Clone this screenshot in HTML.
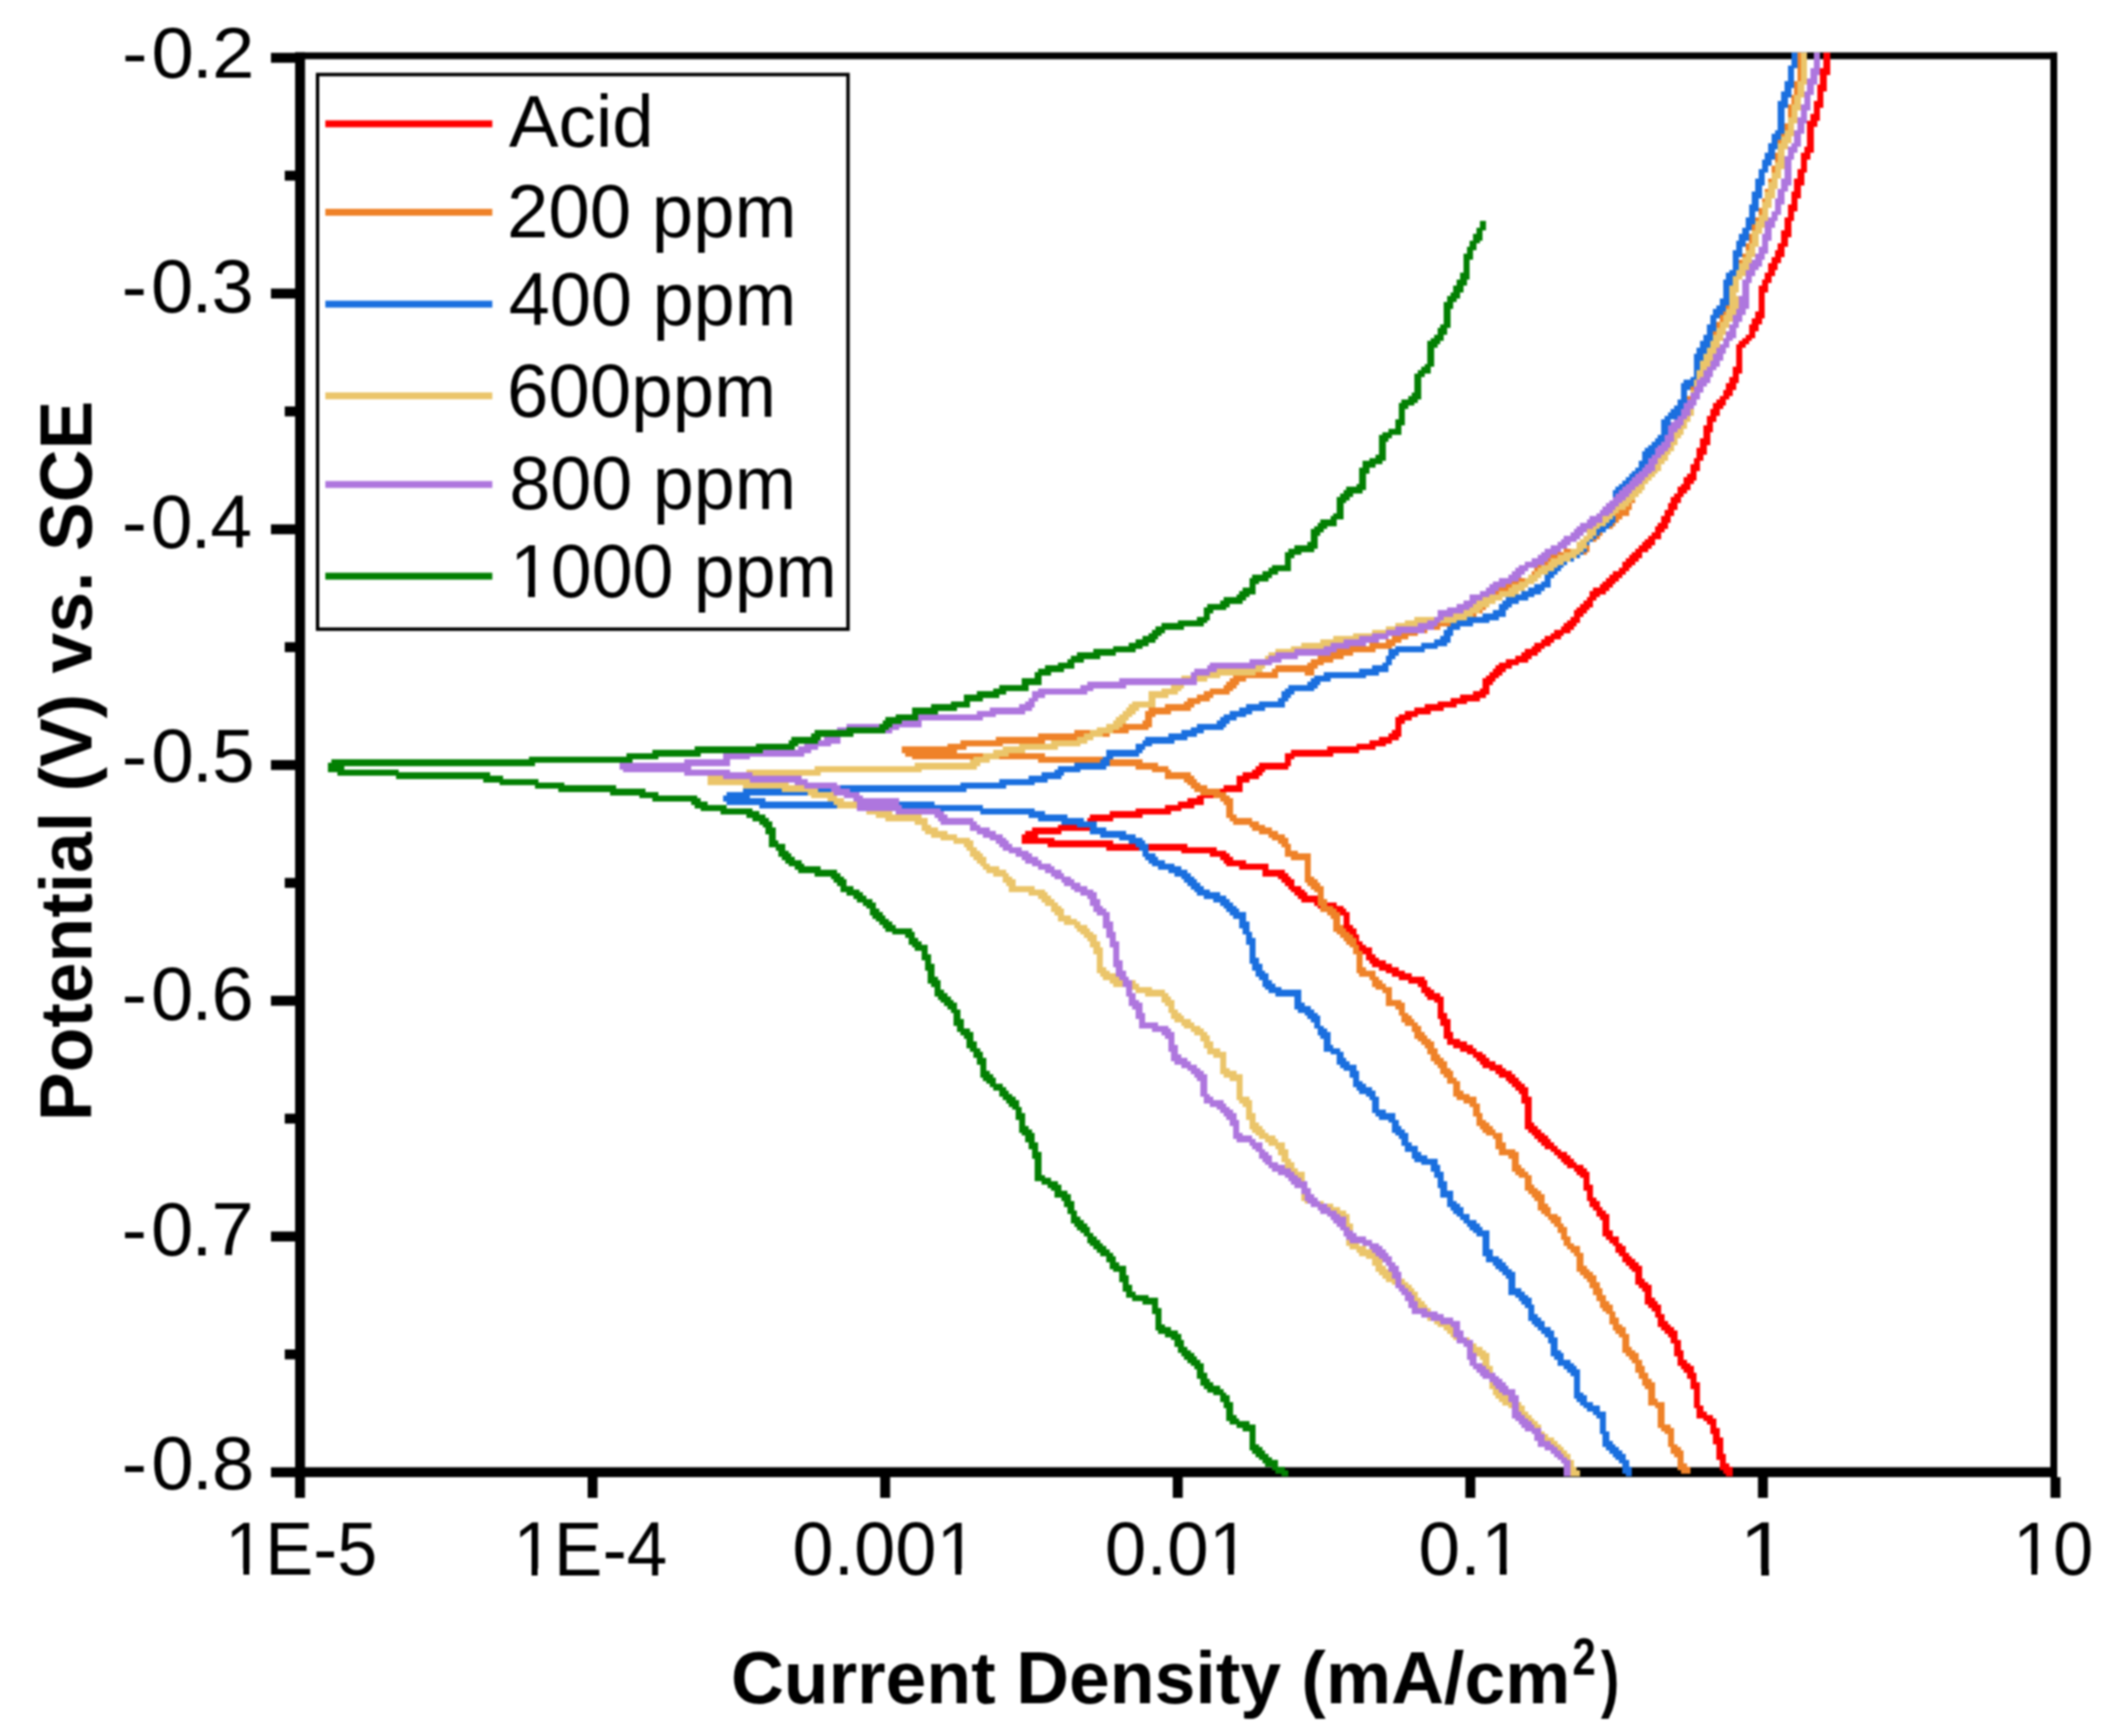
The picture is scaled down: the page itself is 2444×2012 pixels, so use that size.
<!DOCTYPE html>
<html><head><meta charset="utf-8"><title>Tafel plot</title>
<style>html,body{margin:0;padding:0;background:#fff;overflow:hidden;}svg{display:block;filter:blur(1.1px);}</style>
</head><body>
<svg width="2444" height="2012" viewBox="0 0 2444 2012">
<rect width="2444" height="2012" fill="#fff"/>
<g fill="#000">
<rect x="342" y="60.7" width="11.5" height="1651.3"/>
<rect x="342" y="1700.5" width="2042" height="11.5"/>
<rect x="342" y="60.7" width="2042" height="7.8999999999999915"/>
<rect x="2376" y="60.7" width="8" height="1651.3"/>
<rect x="314" y="61.25" width="28" height="11.5"/>
<rect x="314" y="334.47" width="28" height="11.5"/>
<rect x="314" y="607.69" width="28" height="11.5"/>
<rect x="314" y="880.91" width="28" height="11.5"/>
<rect x="314" y="1154.13" width="28" height="11.5"/>
<rect x="314" y="1427.35" width="28" height="11.5"/>
<rect x="314" y="1700.57" width="28" height="11.5"/>
<rect x="330" y="197.86" width="12" height="11.5"/>
<rect x="330" y="471.08" width="12" height="11.5"/>
<rect x="330" y="744.30" width="12" height="11.5"/>
<rect x="330" y="1017.52" width="12" height="11.5"/>
<rect x="330" y="1290.74" width="12" height="11.5"/>
<rect x="330" y="1563.96" width="12" height="11.5"/>
<rect x="341.95" y="1712" width="11.5" height="24"/>
<rect x="681.00" y="1712" width="11.5" height="24"/>
<rect x="1020.05" y="1712" width="11.5" height="24"/>
<rect x="1359.10" y="1712" width="11.5" height="24"/>
<rect x="1698.15" y="1712" width="11.5" height="24"/>
<rect x="2037.20" y="1712" width="11.5" height="24"/>
<rect x="2376.25" y="1712" width="11.5" height="24"/>
</g>
<g>
<path d="M2113 61h8v3h-8zM2113 64h8v4h-8zM2113 68h8v4h-8zM2113 72h8v4h-8zM2113 76h8v3h-8zM2109 79h12v4h-12zM2109 83h12v4h-12zM2109 87h8v4h-8zM2109 91h8v3h-8zM2109 94h8v4h-8zM2106 98h11v4h-11zM2106 102h11v4h-11zM2106 106h7v4h-7zM2106 110h7v3h-7zM2106 113h7v4h-7zM2102 117h11v4h-11zM2102 121h11v4h-11zM2102 125h7v3h-7zM2102 128h7v4h-7zM2098 132h11v4h-11zM2098 136h11v4h-11zM2094 140h12v3h-12zM2094 143h12v4h-12zM2094 147h8v4h-8zM2094 151h8v4h-8zM2094 155h8v3h-8zM2094 158h8v4h-8zM2094 162h8v4h-8zM2094 166h8v4h-8zM2091 170h11v3h-11zM2091 173h11v4h-11zM2087 177h11v4h-11zM2087 181h11v4h-11zM2087 185h7v3h-7zM2087 188h7v4h-7zM2087 192h7v4h-7zM2083 196h11v4h-11zM2083 200h8v4h-8zM2083 204h8v3h-8zM2079 207h12v4h-12zM2079 211h12v4h-12zM2079 215h8v4h-8zM2079 219h8v3h-8zM2076 222h11v4h-11zM2076 226h11v4h-11zM2076 230h7v4h-7zM2076 234h7v3h-7zM2072 237h11v4h-11zM2072 241h11v4h-11zM2072 245h7v4h-7zM2072 249h7v3h-7zM2068 252h11v4h-11zM2068 256h8v4h-8zM2068 260h8v4h-8zM2068 264h8v3h-8zM2064 267h12v4h-12zM2064 271h12v4h-12zM2064 275h8v4h-8zM2064 279h8v3h-8zM2060 282h12v4h-12zM2060 286h8v4h-8zM2057 290h11v4h-11zM2057 294h11v4h-11zM2053 298h11v3h-11zM2053 301h11v4h-11zM2049 305h11v4h-11zM2049 309h11v4h-11zM2049 313h8v3h-8zM2045 316h12v4h-12zM2045 320h8v4h-8zM2042 324h11v4h-11zM2042 328h7v3h-7zM2038 331h11v4h-11zM2038 335h11v4h-11zM2038 339h7v4h-7zM2038 343h7v3h-7zM2038 346h7v4h-7zM2038 350h7v4h-7zM2038 354h7v4h-7zM2038 358h7v3h-7zM2034 361h11v4h-11zM2034 365h11v4h-11zM2030 369h12v4h-12zM2030 373h12v3h-12zM2027 376h11v4h-11zM2027 380h11v4h-11zM2027 384h7v4h-7zM2023 388h11v4h-11zM2019 392h11v3h-11zM2015 395h12v4h-12zM2012 399h11v4h-11zM2012 403h7v4h-7zM2012 407h7v3h-7zM2012 410h7v4h-7zM2012 414h7v4h-7zM2012 418h7v4h-7zM2012 422h7v3h-7zM2008 425h11v4h-11zM2008 429h11v4h-11zM2008 433h7v4h-7zM2004 437h11v3h-11zM2004 440h11v4h-11zM2000 444h12v4h-12zM2000 448h12v4h-12zM1997 452h11v3h-11zM1997 455h11v4h-11zM1993 459h11v4h-11zM1989 463h11v4h-11zM1985 467h15v3h-15zM1985 470h12v4h-12zM1982 474h11v4h-11zM1982 478h11v4h-11zM1978 482h11v4h-11zM1978 486h11v3h-11zM1978 489h7v4h-7zM1974 493h11v4h-11zM1974 497h11v4h-11zM1974 501h8v3h-8zM1974 504h8v4h-8zM1970 508h12v4h-12zM1970 512h12v4h-12zM1970 516h8v3h-8zM1966 519h12v4h-12zM1966 523h12v4h-12zM1966 527h8v4h-8zM1963 531h11v3h-11zM1963 534h7v4h-7zM1959 538h11v4h-11zM1959 542h11v4h-11zM1959 546h7v3h-7zM1955 549h11v4h-11zM1951 553h15v4h-15zM1951 557h12v4h-12zM1948 561h11v3h-11zM1944 564h15v4h-15zM1944 568h11v4h-11zM1940 572h11v4h-11zM1936 576h12v4h-12zM1936 580h12v3h-12zM1933 583h11v4h-11zM1933 587h11v4h-11zM1929 591h11v4h-11zM1929 595h11v3h-11zM1925 598h11v4h-11zM1925 602h11v4h-11zM1921 606h12v4h-12zM1918 610h15v3h-15zM1918 613h11v4h-11zM1914 617h11v4h-11zM1910 621h15v4h-15zM1906 625h12v3h-12zM1903 628h15v4h-15zM1899 632h15v4h-15zM1895 636h15v4h-15zM1891 640h12v3h-12zM1888 643h15v4h-15zM1884 647h15v4h-15zM1880 651h15v4h-15zM1880 655h11v3h-11zM1876 658h12v4h-12zM1869 662h15v4h-15zM1865 666h15v4h-15zM1861 670h15v4h-15zM1857 674h15v3h-15zM1854 677h15v4h-15zM1846 681h19v4h-19zM1842 685h19v4h-19zM1842 689h12v3h-12zM1839 692h11v4h-11zM1835 696h11v4h-11zM1831 700h15v4h-15zM1827 704h15v3h-15zM1824 707h15v4h-15zM1824 711h11v4h-11zM1820 715h11v4h-11zM1816 719h15v3h-15zM1812 722h15v4h-15zM1809 726h15v4h-15zM1801 730h19v4h-19zM1797 734h15v3h-15zM1790 737h19v4h-19zM1786 741h15v4h-15zM1778 745h19v4h-19zM1775 749h15v3h-15zM1767 752h19v4h-19zM1763 756h19v4h-19zM1756 760h19v4h-19zM1745 764h26v4h-26zM1737 768h23v3h-23zM1733 771h19v4h-19zM1730 775h15v4h-15zM1726 779h15v4h-15zM1722 783h15v3h-15zM1718 786h15v4h-15zM1718 790h12v4h-12zM1718 794h8v4h-8zM1715 798h11v3h-11zM1707 801h19v4h-19zM1692 805h30v4h-30zM1681 809h34v4h-34zM1666 813h34v3h-34zM1651 816h37v4h-37zM1639 820h34v4h-34zM1628 824h30v4h-30zM1621 828h22v3h-22zM1617 831h19v4h-19zM1617 835h11v4h-11zM1617 839h7v4h-7zM1617 843h7v3h-7zM1613 846h11v4h-11zM1609 850h15v4h-15zM1598 854h23v4h-23zM1587 858h26v4h-26zM1572 862h34v3h-34zM1538 865h56v4h-56zM1496 869h79v4h-79zM1489 873h56v4h-56zM1489 877h11v3h-11zM1489 880h7v4h-7zM1459 884h37v4h-37zM1455 888h38v4h-38zM1451 892h15v3h-15zM1440 895h23v4h-23zM1433 899h26v4h-26zM1433 903h15v4h-15zM1433 907h7v3h-7zM1418 910h22v4h-22zM1399 914h41v4h-41zM1391 918h30v4h-30zM1387 922h19v3h-19zM1376 925h19v4h-19zM1365 929h30v4h-30zM1350 933h34v4h-34zM1316 937h53v3h-53zM1286 940h71v4h-71zM1263 944h61v4h-61zM1260 948h30v4h-30zM1256 952h11v4h-11zM1226 956h41v3h-41zM1196 959h67v4h-67zM1188 963h42v4h-42zM1184 967h19v4h-19zM1184 971h38v3h-38zM1184 974h106v4h-106zM1214 978h162v4h-162zM1282 982h128v4h-128zM1369 986h52v3h-52zM1402 989h23v4h-23zM1414 993h15v4h-15zM1418 997h26v4h-26zM1421 1001h49v3h-49zM1436 1004h34v4h-34zM1463 1008h26v4h-26zM1463 1012h30v4h-30zM1481 1016h15v3h-15zM1485 1019h15v4h-15zM1489 1023h11v4h-11zM1493 1027h15v4h-15zM1496 1031h16v3h-16zM1500 1034h15v4h-15zM1504 1038h26v4h-26zM1508 1042h22v4h-22zM1523 1046h26v4h-26zM1527 1050h30v3h-30zM1542 1053h18v4h-18zM1549 1057h15v4h-15zM1557 1061h7v4h-7zM1557 1065h7v3h-7zM1557 1068h7v4h-7zM1557 1072h11v4h-11zM1557 1076h15v4h-15zM1560 1080h12v3h-12zM1564 1083h11v4h-11zM1564 1087h11v4h-11zM1568 1091h11v4h-11zM1568 1095h15v3h-15zM1575 1098h15v4h-15zM1579 1102h11v4h-11zM1583 1106h11v4h-11zM1583 1110h15v3h-15zM1587 1113h19v4h-19zM1590 1117h23v4h-23zM1598 1121h23v4h-23zM1606 1125h22v3h-22zM1613 1128h23v4h-23zM1621 1132h30v4h-30zM1632 1136h22v4h-22zM1643 1140h11v4h-11zM1647 1144h11v3h-11zM1647 1147h15v4h-15zM1651 1151h18v4h-18zM1654 1155h19v4h-19zM1662 1159h11v3h-11zM1666 1162h7v4h-7zM1666 1166h7v4h-7zM1666 1170h7v4h-7zM1666 1174h11v3h-11zM1666 1177h11v4h-11zM1669 1181h12v4h-12zM1669 1185h12v4h-12zM1673 1189h8v3h-8zM1673 1192h8v4h-8zM1673 1196h11v4h-11zM1673 1200h11v4h-11zM1677 1204h15v3h-15zM1677 1207h23v4h-23zM1684 1211h23v4h-23zM1692 1215h19v4h-19zM1700 1219h18v3h-18zM1707 1222h15v4h-15zM1711 1226h15v4h-15zM1715 1230h18v4h-18zM1718 1234h23v4h-23zM1726 1238h19v3h-19zM1733 1241h19v4h-19zM1737 1245h19v4h-19zM1745 1249h15v4h-15zM1748 1253h15v3h-15zM1752 1256h15v4h-15zM1756 1260h15v4h-15zM1760 1264h11v4h-11zM1763 1268h8v3h-8zM1763 1271h12v4h-12zM1763 1275h12v4h-12zM1767 1279h8v4h-8zM1767 1283h8v3h-8zM1767 1286h8v4h-8zM1767 1290h8v4h-8zM1767 1294h8v4h-8zM1767 1298h8v3h-8zM1767 1301h11v4h-11zM1767 1305h15v4h-15zM1771 1309h15v4h-15zM1775 1313h15v3h-15zM1778 1316h16v4h-16zM1782 1320h15v4h-15zM1786 1324h15v4h-15zM1790 1328h15v4h-15zM1797 1332h12v3h-12zM1801 1335h15v4h-15zM1805 1339h15v4h-15zM1809 1343h15v4h-15zM1812 1347h15v3h-15zM1816 1350h19v4h-19zM1824 1354h15v4h-15zM1827 1358h15v4h-15zM1831 1362h11v3h-11zM1835 1365h7v4h-7zM1835 1369h7v4h-7zM1835 1373h11v4h-11zM1835 1377h11v3h-11zM1839 1380h7v4h-7zM1839 1384h7v4h-7zM1839 1388h11v4h-11zM1842 1392h12v3h-12zM1842 1395h12v4h-12zM1846 1399h11v4h-11zM1850 1403h11v4h-11zM1850 1407h15v3h-15zM1854 1410h11v4h-11zM1857 1414h8v4h-8zM1857 1418h8v4h-8zM1857 1422h8v4h-8zM1857 1426h12v3h-12zM1857 1429h12v4h-12zM1861 1433h15v4h-15zM1865 1437h11v4h-11zM1869 1441h11v3h-11zM1872 1444h12v4h-12zM1872 1448h12v4h-12zM1876 1452h12v4h-12zM1880 1456h11v3h-11zM1880 1459h15v4h-15zM1884 1463h15v4h-15zM1888 1467h15v4h-15zM1891 1471h12v3h-12zM1895 1474h8v4h-8zM1895 1478h8v4h-8zM1895 1482h11v4h-11zM1895 1486h15v3h-15zM1899 1489h15v4h-15zM1903 1493h11v4h-11zM1906 1497h8v4h-8zM1906 1501h8v3h-8zM1906 1504h12v4h-12zM1906 1508h15v4h-15zM1910 1512h15v4h-15zM1914 1516h11v4h-11zM1918 1520h7v3h-7zM1918 1523h11v4h-11zM1921 1527h8v4h-8zM1921 1531h12v4h-12zM1921 1535h15v3h-15zM1925 1538h15v4h-15zM1929 1542h15v4h-15zM1933 1546h11v4h-11zM1936 1550h8v3h-8zM1936 1553h12v4h-12zM1940 1557h8v4h-8zM1940 1561h8v4h-8zM1940 1565h11v3h-11zM1940 1568h11v4h-11zM1944 1572h7v4h-7zM1944 1576h11v4h-11zM1944 1580h15v3h-15zM1948 1583h15v4h-15zM1951 1587h12v4h-12zM1955 1591h11v4h-11zM1955 1595h11v3h-11zM1959 1598h7v4h-7zM1959 1602h11v4h-11zM1959 1606h11v4h-11zM1963 1610h7v4h-7zM1963 1614h7v3h-7zM1963 1617h7v4h-7zM1963 1621h7v4h-7zM1963 1625h7v4h-7zM1963 1629h11v3h-11zM1966 1632h8v4h-8zM1966 1636h12v4h-12zM1966 1640h19v4h-19zM1974 1644h15v3h-15zM1978 1647h11v4h-11zM1982 1651h7v4h-7zM1982 1655h11v4h-11zM1982 1659h11v3h-11zM1985 1662h8v4h-8zM1985 1666h12v4h-12zM1985 1670h12v4h-12zM1989 1674h8v3h-8zM1989 1677h8v4h-8zM1989 1681h8v4h-8zM1989 1685h11v4h-11zM1989 1689h11v3h-11zM1993 1692h7v4h-7zM1993 1696h11v4h-11zM1993 1700h15v4h-15zM1997 1704h11v4h-11zM2000 1708h8v3h-8z" fill="#ff0000"/>
<path d="M2083 61h8v3h-8zM2083 64h8v4h-8zM2083 68h8v4h-8zM2083 72h8v4h-8zM2083 76h8v3h-8zM2083 79h8v4h-8zM2083 83h8v4h-8zM2083 87h8v4h-8zM2083 91h8v3h-8zM2079 94h12v4h-12zM2079 98h12v4h-12zM2079 102h8v4h-8zM2079 106h8v4h-8zM2076 110h11v3h-11zM2076 113h11v4h-11zM2076 117h7v4h-7zM2072 121h11v4h-11zM2072 125h11v3h-11zM2072 128h7v4h-7zM2072 132h7v4h-7zM2072 136h7v4h-7zM2072 140h7v3h-7zM2068 143h11v4h-11zM2068 147h11v4h-11zM2068 151h8v4h-8zM2064 155h12v3h-12zM2064 158h12v4h-12zM2060 162h12v4h-12zM2060 166h12v4h-12zM2060 170h8v3h-8zM2060 173h8v4h-8zM2057 177h11v4h-11zM2057 181h7v4h-7zM2057 185h7v3h-7zM2057 188h7v4h-7zM2053 192h11v4h-11zM2053 196h11v4h-11zM2053 200h7v4h-7zM2053 204h7v3h-7zM2049 207h11v4h-11zM2049 211h8v4h-8zM2049 215h8v4h-8zM2045 219h12v3h-12zM2045 222h8v4h-8zM2045 226h8v4h-8zM2042 230h11v4h-11zM2042 234h7v3h-7zM2042 237h7v4h-7zM2038 241h11v4h-11zM2038 245h11v4h-11zM2038 249h7v3h-7zM2034 252h11v4h-11zM2034 256h8v4h-8zM2030 260h12v4h-12zM2030 264h12v3h-12zM2030 267h8v4h-8zM2027 271h11v4h-11zM2027 275h11v4h-11zM2027 279h7v3h-7zM2023 282h11v4h-11zM2023 286h11v4h-11zM2023 290h7v4h-7zM2019 294h11v4h-11zM2019 298h11v3h-11zM2015 301h12v4h-12zM2015 305h12v4h-12zM2012 309h11v4h-11zM2012 313h11v3h-11zM2008 316h11v4h-11zM2008 320h11v4h-11zM2004 324h11v4h-11zM2004 328h11v3h-11zM2004 331h8v4h-8zM2004 335h8v4h-8zM2000 339h12v4h-12zM2000 343h12v3h-12zM2000 346h12v4h-12zM2000 350h12v4h-12zM2000 354h8v4h-8zM1997 358h11v3h-11zM1997 361h11v4h-11zM1993 365h11v4h-11zM1993 369h11v4h-11zM1989 373h11v3h-11zM1989 376h11v4h-11zM1989 380h8v4h-8zM1985 384h12v4h-12zM1982 388h11v4h-11zM1982 392h11v3h-11zM1982 395h7v4h-7zM1978 399h11v4h-11zM1978 403h7v4h-7zM1974 407h11v3h-11zM1974 410h8v4h-8zM1970 414h12v4h-12zM1970 418h12v4h-12zM1966 422h12v3h-12zM1966 425h12v4h-12zM1966 429h8v4h-8zM1963 433h11v4h-11zM1963 437h11v3h-11zM1963 440h7v4h-7zM1959 444h11v4h-11zM1959 448h11v4h-11zM1959 452h7v3h-7zM1959 455h7v4h-7zM1955 459h11v4h-11zM1955 463h8v4h-8zM1955 467h8v3h-8zM1951 470h12v4h-12zM1951 474h8v4h-8zM1948 478h11v4h-11zM1948 482h11v4h-11zM1944 486h11v3h-11zM1944 489h11v4h-11zM1940 493h11v4h-11zM1940 497h11v4h-11zM1936 501h12v3h-12zM1936 504h8v4h-8zM1933 508h11v4h-11zM1929 512h11v4h-11zM1929 516h11v3h-11zM1925 519h11v4h-11zM1921 523h12v4h-12zM1921 527h12v4h-12zM1918 531h11v3h-11zM1914 534h15v4h-15zM1914 538h11v4h-11zM1910 542h11v4h-11zM1906 546h15v3h-15zM1903 549h15v4h-15zM1899 553h15v4h-15zM1899 557h11v4h-11zM1895 561h11v3h-11zM1891 564h12v4h-12zM1891 568h12v4h-12zM1888 572h11v4h-11zM1884 576h11v4h-11zM1884 580h11v3h-11zM1880 583h11v4h-11zM1880 587h11v4h-11zM1876 591h12v4h-12zM1869 595h19v3h-19zM1865 598h15v4h-15zM1861 602h15v4h-15zM1854 606h18v4h-18zM1850 610h19v3h-19zM1846 613h15v4h-15zM1839 617h18v4h-18zM1835 621h19v4h-19zM1835 625h15v3h-15zM1835 628h7v4h-7zM1831 632h11v4h-11zM1812 636h30v4h-30zM1801 640h38v3h-38zM1794 643h26v4h-26zM1790 647h19v4h-19zM1786 651h15v4h-15zM1782 655h15v3h-15zM1778 658h16v4h-16zM1775 662h15v4h-15zM1771 666h15v4h-15zM1760 670h22v4h-22zM1752 674h26v3h-26zM1745 677h22v4h-22zM1737 681h23v4h-23zM1730 685h22v4h-22zM1726 689h19v3h-19zM1722 692h15v4h-15zM1715 696h18v4h-18zM1711 700h15v4h-15zM1703 704h19v3h-19zM1700 707h18v4h-18zM1688 711h23v4h-23zM1677 715h30v4h-30zM1662 719h34v3h-34zM1647 722h37v4h-37zM1639 726h30v4h-30zM1628 730h26v4h-26zM1621 734h22v3h-22zM1613 737h19v4h-19zM1606 741h18v4h-18zM1587 745h30v4h-30zM1560 749h53v3h-53zM1549 752h45v4h-45zM1542 756h26v4h-26zM1527 760h30v4h-30zM1519 764h26v4h-26zM1515 768h19v3h-19zM1478 771h49v4h-49zM1474 775h49v4h-49zM1436 779h45v4h-45zM1512 779h11v4h-11zM1429 783h52v3h-52zM1425 786h19v4h-19zM1421 790h15v4h-15zM1418 794h15v4h-15zM1402 798h27v3h-27zM1395 801h30v4h-30zM1387 805h19v4h-19zM1376 809h26v4h-26zM1372 813h19v3h-19zM1350 816h34v4h-34zM1331 820h49v4h-49zM1327 824h30v4h-30zM1327 828h12v3h-12zM1327 831h8v4h-8zM1324 835h11v4h-11zM1301 839h34v4h-34zM1278 843h53v3h-53zM1245 846h63v4h-63zM1203 850h83v4h-83zM1154 854h98v4h-98zM1113 858h98v4h-98zM1098 862h64v3h-64zM1045 865h75v4h-75zM1045 869h64v4h-64zM1049 873h162v4h-162zM1057 877h225v3h-225zM1203 880h121v4h-121zM1275 884h67v4h-67zM1316 888h38v4h-38zM1335 892h22v3h-22zM1350 895h30v4h-30zM1350 899h34v4h-34zM1372 903h15v4h-15zM1376 907h15v3h-15zM1380 910h19v4h-19zM1384 914h30v4h-30zM1391 918h30v4h-30zM1406 922h19v3h-19zM1414 925h15v4h-15zM1418 929h11v4h-11zM1421 933h8v4h-8zM1421 937h8v3h-8zM1421 940h8v4h-8zM1421 944h12v4h-12zM1425 948h26v4h-26zM1429 952h30v4h-30zM1448 956h18v3h-18zM1451 959h23v4h-23zM1459 963h22v4h-22zM1470 967h19v4h-19zM1474 971h19v3h-19zM1481 974h12v4h-12zM1485 978h11v4h-11zM1489 982h7v4h-7zM1489 986h15v3h-15zM1489 989h30v4h-30zM1496 993h23v4h-23zM1512 997h7v4h-7zM1512 1001h7v3h-7zM1512 1004h7v4h-7zM1512 1008h7v4h-7zM1512 1012h7v4h-7zM1512 1016h11v3h-11zM1512 1019h15v4h-15zM1515 1023h15v4h-15zM1519 1027h15v4h-15zM1523 1031h11v3h-11zM1527 1034h7v4h-7zM1527 1038h7v4h-7zM1527 1042h11v4h-11zM1527 1046h11v4h-11zM1530 1050h15v3h-15zM1530 1053h19v4h-19zM1538 1057h15v4h-15zM1542 1061h11v4h-11zM1545 1065h8v3h-8zM1545 1068h8v4h-8zM1545 1072h12v4h-12zM1545 1076h15v4h-15zM1549 1080h15v3h-15zM1553 1083h15v4h-15zM1557 1087h15v4h-15zM1560 1091h12v4h-12zM1564 1095h11v3h-11zM1568 1098h7v4h-7zM1568 1102h11v4h-11zM1572 1106h7v4h-7zM1572 1110h7v3h-7zM1572 1113h7v4h-7zM1572 1117h7v4h-7zM1572 1121h11v4h-11zM1572 1125h22v3h-22zM1575 1128h19v4h-19zM1587 1132h11v4h-11zM1590 1136h12v4h-12zM1590 1140h16v4h-16zM1594 1144h19v3h-19zM1602 1147h11v4h-11zM1606 1151h7v4h-7zM1606 1155h7v4h-7zM1606 1159h18v3h-18zM1606 1162h22v4h-22zM1617 1166h11v4h-11zM1621 1170h7v4h-7zM1621 1174h11v3h-11zM1624 1177h12v4h-12zM1624 1181h15v4h-15zM1628 1185h15v4h-15zM1636 1189h11v3h-11zM1636 1192h11v4h-11zM1639 1196h12v4h-12zM1639 1200h15v4h-15zM1643 1204h15v3h-15zM1647 1207h15v4h-15zM1651 1211h11v4h-11zM1654 1215h12v4h-12zM1654 1219h12v3h-12zM1658 1222h11v4h-11zM1658 1226h15v4h-15zM1662 1230h15v4h-15zM1666 1234h11v4h-11zM1669 1238h12v3h-12zM1669 1241h15v4h-15zM1673 1245h11v4h-11zM1677 1249h11v4h-11zM1677 1253h15v3h-15zM1684 1256h8v4h-8zM1684 1260h8v4h-8zM1684 1264h12v4h-12zM1684 1268h19v3h-19zM1688 1271h23v4h-23zM1696 1275h15v4h-15zM1703 1279h12v4h-12zM1707 1283h8v3h-8zM1707 1286h8v4h-8zM1707 1290h11v4h-11zM1711 1294h7v4h-7zM1711 1298h11v3h-11zM1711 1301h15v4h-15zM1715 1305h15v4h-15zM1718 1309h15v4h-15zM1722 1313h19v3h-19zM1730 1316h11v4h-11zM1733 1320h8v4h-8zM1733 1324h12v4h-12zM1733 1328h12v4h-12zM1737 1332h19v3h-19zM1737 1335h23v4h-23zM1748 1339h12v4h-12zM1752 1343h8v4h-8zM1752 1347h8v3h-8zM1752 1350h11v4h-11zM1752 1354h15v4h-15zM1756 1358h15v4h-15zM1760 1362h15v3h-15zM1767 1365h8v4h-8zM1767 1369h8v4h-8zM1767 1373h11v4h-11zM1767 1377h15v3h-15zM1771 1380h15v4h-15zM1775 1384h15v4h-15zM1778 1388h12v4h-12zM1782 1392h8v3h-8zM1782 1395h12v4h-12zM1782 1399h15v4h-15zM1786 1403h11v4h-11zM1790 1407h15v3h-15zM1794 1410h15v4h-15zM1797 1414h12v4h-12zM1801 1418h11v4h-11zM1805 1422h11v4h-11zM1805 1426h11v3h-11zM1809 1429h7v4h-7zM1809 1433h11v4h-11zM1812 1437h8v4h-8zM1812 1441h12v3h-12zM1816 1444h15v4h-15zM1820 1448h11v4h-11zM1824 1452h11v4h-11zM1827 1456h8v3h-8zM1827 1459h8v4h-8zM1827 1463h8v4h-8zM1827 1467h12v4h-12zM1827 1471h15v3h-15zM1831 1474h15v4h-15zM1835 1478h15v4h-15zM1839 1482h11v4h-11zM1842 1486h12v3h-12zM1842 1489h12v4h-12zM1846 1493h11v4h-11zM1846 1497h11v4h-11zM1850 1501h11v3h-11zM1850 1504h11v4h-11zM1854 1508h11v4h-11zM1854 1512h15v4h-15zM1857 1516h12v4h-12zM1861 1520h11v3h-11zM1865 1523h7v4h-7zM1865 1527h11v4h-11zM1865 1531h11v4h-11zM1869 1535h11v3h-11zM1869 1538h15v4h-15zM1872 1542h12v4h-12zM1876 1546h12v4h-12zM1880 1550h8v3h-8zM1880 1553h8v4h-8zM1880 1557h8v4h-8zM1880 1561h11v4h-11zM1880 1565h15v3h-15zM1884 1568h15v4h-15zM1888 1572h11v4h-11zM1891 1576h12v4h-12zM1895 1580h8v3h-8zM1895 1583h11v4h-11zM1895 1587h11v4h-11zM1899 1591h11v4h-11zM1899 1595h11v3h-11zM1903 1598h11v4h-11zM1903 1602h15v4h-15zM1906 1606h12v4h-12zM1910 1610h8v4h-8zM1910 1614h8v3h-8zM1910 1617h8v4h-8zM1910 1621h11v4h-11zM1910 1625h19v4h-19zM1918 1629h11v3h-11zM1921 1632h8v4h-8zM1921 1636h8v4h-8zM1921 1640h8v4h-8zM1921 1644h8v3h-8zM1921 1647h8v4h-8zM1921 1651h15v4h-15zM1925 1655h15v4h-15zM1929 1659h11v3h-11zM1933 1662h7v4h-7zM1933 1666h7v4h-7zM1933 1670h7v4h-7zM1933 1674h11v3h-11zM1936 1677h12v4h-12zM1936 1681h15v4h-15zM1940 1685h11v4h-11zM1944 1689h7v3h-7zM1944 1692h7v4h-7zM1944 1696h11v4h-11zM1944 1700h15v4h-15zM1948 1704h11v4h-11z" fill="#ef8228"/>
<path d="M2076 61h7v3h-7zM2076 64h7v4h-7zM2076 68h7v4h-7zM2076 72h7v4h-7zM2072 76h11v3h-11zM2072 79h7v4h-7zM2072 83h7v4h-7zM2072 87h7v4h-7zM2072 91h7v3h-7zM2068 94h11v4h-11zM2068 98h11v4h-11zM2068 102h8v4h-8zM2064 106h12v4h-12zM2064 110h12v3h-12zM2064 113h8v4h-8zM2060 117h12v4h-12zM2060 121h12v4h-12zM2060 125h8v3h-8zM2060 128h8v4h-8zM2060 132h8v4h-8zM2060 136h8v4h-8zM2060 140h8v3h-8zM2060 143h8v4h-8zM2060 147h8v4h-8zM2057 151h11v4h-11zM2053 155h11v3h-11zM2053 158h11v4h-11zM2053 162h7v4h-7zM2049 166h11v4h-11zM2049 170h11v3h-11zM2049 173h8v4h-8zM2045 177h12v4h-12zM2045 181h12v4h-12zM2042 185h11v3h-11zM2042 188h11v4h-11zM2042 192h7v4h-7zM2038 196h11v4h-11zM2038 200h7v4h-7zM2038 204h7v3h-7zM2034 207h11v4h-11zM2034 211h11v4h-11zM2034 215h8v4h-8zM2034 219h8v3h-8zM2030 222h12v4h-12zM2030 226h12v4h-12zM2030 230h8v4h-8zM2030 234h8v3h-8zM2027 237h11v4h-11zM2027 241h11v4h-11zM2027 245h7v4h-7zM2027 249h7v3h-7zM2023 252h11v4h-11zM2023 256h11v4h-11zM2023 260h7v4h-7zM2019 264h11v3h-11zM2019 267h8v4h-8zM2015 271h12v4h-12zM2015 275h12v4h-12zM2012 279h11v3h-11zM2012 282h11v4h-11zM2012 286h7v4h-7zM2008 290h11v4h-11zM2008 294h11v4h-11zM2008 298h7v3h-7zM2008 301h7v4h-7zM2008 305h7v4h-7zM2008 309h7v4h-7zM2004 313h11v3h-11zM2000 316h15v4h-15zM2000 320h12v4h-12zM1997 324h11v4h-11zM1997 328h11v3h-11zM1997 331h7v4h-7zM1997 335h7v4h-7zM1997 339h7v4h-7zM1997 343h7v3h-7zM1993 346h11v4h-11zM1993 350h11v4h-11zM1989 354h11v4h-11zM1985 358h15v3h-15zM1985 361h12v4h-12zM1982 365h11v4h-11zM1982 369h7v4h-7zM1982 373h7v3h-7zM1978 376h11v4h-11zM1978 380h11v4h-11zM1978 384h7v4h-7zM1974 388h11v4h-11zM1974 392h11v3h-11zM1970 395h12v4h-12zM1970 399h12v4h-12zM1966 403h12v4h-12zM1966 407h12v3h-12zM1963 410h11v4h-11zM1963 414h11v4h-11zM1963 418h7v4h-7zM1963 422h7v3h-7zM1963 425h7v4h-7zM1963 429h7v4h-7zM1963 433h7v4h-7zM1959 437h11v3h-11zM1951 440h15v4h-15zM1948 444h15v4h-15zM1948 448h11v4h-11zM1948 452h7v3h-7zM1948 455h7v4h-7zM1948 459h7v4h-7zM1944 463h11v4h-11zM1944 467h11v3h-11zM1940 470h11v4h-11zM1936 474h15v4h-15zM1933 478h15v4h-15zM1929 482h15v4h-15zM1925 486h11v3h-11zM1925 489h11v4h-11zM1925 493h8v4h-8zM1925 497h8v4h-8zM1925 501h8v3h-8zM1921 504h12v4h-12zM1918 508h11v4h-11zM1914 512h15v4h-15zM1910 516h15v3h-15zM1906 519h15v4h-15zM1903 523h15v4h-15zM1903 527h11v4h-11zM1903 531h7v3h-7zM1899 534h11v4h-11zM1899 538h11v4h-11zM1895 542h11v4h-11zM1891 546h15v3h-15zM1888 549h15v4h-15zM1884 553h15v4h-15zM1880 557h15v4h-15zM1876 561h15v3h-15zM1872 564h16v4h-16zM1869 568h15v4h-15zM1869 572h11v4h-11zM1869 576h7v4h-7zM1869 580h7v3h-7zM1865 583h11v4h-11zM1865 587h11v4h-11zM1865 591h7v4h-7zM1865 595h7v3h-7zM1861 598h11v4h-11zM1861 602h11v4h-11zM1854 606h15v4h-15zM1846 610h19v3h-19zM1842 613h19v4h-19zM1839 617h15v4h-15zM1835 621h15v4h-15zM1835 625h11v3h-11zM1831 628h11v4h-11zM1827 632h12v4h-12zM1824 636h15v4h-15zM1820 640h15v3h-15zM1812 643h19v4h-19zM1805 647h19v4h-19zM1801 651h15v4h-15zM1797 655h15v3h-15zM1794 658h15v4h-15zM1790 662h15v4h-15zM1790 666h11v4h-11zM1790 670h7v4h-7zM1786 674h11v3h-11zM1778 677h19v4h-19zM1771 681h19v4h-19zM1763 685h23v4h-23zM1752 689h26v3h-26zM1745 692h26v4h-26zM1741 696h19v4h-19zM1737 700h15v4h-15zM1737 704h11v3h-11zM1730 707h15v4h-15zM1718 711h27v4h-27zM1700 715h37v4h-37zM1684 719h42v3h-42zM1681 722h26v4h-26zM1677 726h15v4h-15zM1673 730h11v4h-11zM1673 734h11v3h-11zM1669 737h12v4h-12zM1662 741h19v4h-19zM1647 745h30v4h-30zM1617 749h49v3h-49zM1609 752h42v4h-42zM1609 756h12v4h-12zM1606 760h11v4h-11zM1606 764h7v4h-7zM1602 768h11v3h-11zM1590 771h19v4h-19zM1575 775h34v4h-34zM1534 779h64v4h-64zM1523 783h60v3h-60zM1519 786h23v4h-23zM1515 790h15v4h-15zM1493 794h34v4h-34zM1489 798h34v3h-34zM1485 801h15v4h-15zM1485 805h11v4h-11zM1481 809h12v4h-12zM1459 813h30v3h-30zM1444 816h45v4h-45zM1436 820h30v4h-30zM1425 824h26v4h-26zM1418 828h26v3h-26zM1414 831h19v4h-19zM1410 835h15v4h-15zM1387 839h34v4h-34zM1380 843h38v3h-38zM1369 846h26v4h-26zM1354 850h33v4h-33zM1327 854h49v4h-49zM1324 858h37v4h-37zM1316 862h19v3h-19zM1316 865h11v4h-11zM1282 869h42v4h-42zM1282 873h38v4h-38zM1278 877h12v3h-12zM1275 880h11v4h-11zM1245 884h41v4h-41zM1226 888h56v4h-56zM1222 892h30v3h-30zM1207 895h26v4h-26zM1192 899h38v4h-38zM1158 903h56v4h-56zM1113 907h86v3h-86zM966 910h200v4h-200zM861 914h259v4h-259zM842 918h132v4h-132zM838 922h31v3h-31zM838 925h49v4h-49zM842 929h241v4h-241zM880 933h259v4h-259zM1075 937h124v3h-124zM1136 940h75v4h-75zM1192 944h45v4h-45zM1203 948h53v4h-53zM1230 952h41v4h-41zM1248 956h23v3h-23zM1263 959h19v4h-19zM1263 963h42v4h-42zM1275 967h41v4h-41zM1297 971h27v3h-27zM1308 974h19v4h-19zM1316 978h15v4h-15zM1320 982h11v4h-11zM1324 986h7v3h-7zM1324 989h15v4h-15zM1327 993h15v4h-15zM1331 997h19v4h-19zM1335 1001h26v3h-26zM1342 1004h27v4h-27zM1354 1008h22v4h-22zM1361 1012h19v4h-19zM1369 1016h15v3h-15zM1372 1019h15v4h-15zM1376 1023h15v4h-15zM1380 1027h15v4h-15zM1384 1031h18v3h-18zM1387 1034h27v4h-27zM1395 1038h26v4h-26zM1406 1042h19v4h-19zM1414 1046h15v4h-15zM1418 1050h15v3h-15zM1421 1053h15v4h-15zM1425 1057h19v4h-19zM1429 1061h15v4h-15zM1436 1065h8v3h-8zM1436 1068h12v4h-12zM1436 1072h12v4h-12zM1440 1076h8v4h-8zM1440 1080h11v3h-11zM1444 1083h7v4h-7zM1444 1087h11v4h-11zM1444 1091h11v4h-11zM1448 1095h7v3h-7zM1448 1098h7v4h-7zM1448 1102h7v4h-7zM1448 1106h7v4h-7zM1448 1110h11v3h-11zM1448 1113h11v4h-11zM1451 1117h12v4h-12zM1451 1121h12v4h-12zM1455 1125h11v3h-11zM1455 1128h15v4h-15zM1459 1132h11v4h-11zM1463 1136h11v4h-11zM1463 1140h15v4h-15zM1466 1144h19v3h-19zM1470 1147h38v4h-38zM1478 1151h30v4h-30zM1500 1155h8v4h-8zM1500 1159h8v3h-8zM1500 1162h12v4h-12zM1500 1166h19v4h-19zM1504 1170h19v4h-19zM1512 1174h15v3h-15zM1515 1177h15v4h-15zM1519 1181h11v4h-11zM1523 1185h7v4h-7zM1523 1189h11v3h-11zM1527 1192h11v4h-11zM1527 1196h15v4h-15zM1530 1200h12v4h-12zM1534 1204h8v3h-8zM1534 1207h8v4h-8zM1534 1211h11v4h-11zM1534 1215h19v4h-19zM1542 1219h15v3h-15zM1549 1222h8v4h-8zM1549 1226h11v4h-11zM1549 1230h15v4h-15zM1553 1234h19v4h-19zM1557 1238h15v3h-15zM1564 1241h11v4h-11zM1564 1245h11v4h-11zM1568 1249h7v4h-7zM1568 1253h11v3h-11zM1568 1256h15v4h-15zM1572 1260h18v4h-18zM1575 1264h19v4h-19zM1583 1268h11v3h-11zM1587 1271h11v4h-11zM1590 1275h8v4h-8zM1590 1279h8v4h-8zM1590 1283h8v3h-8zM1590 1286h16v4h-16zM1594 1290h23v4h-23zM1598 1294h19v4h-19zM1609 1298h12v3h-12zM1613 1301h8v4h-8zM1613 1305h11v4h-11zM1613 1309h15v4h-15zM1617 1313h15v3h-15zM1621 1316h11v4h-11zM1624 1320h8v4h-8zM1624 1324h12v4h-12zM1628 1328h15v4h-15zM1628 1332h15v3h-15zM1636 1335h11v4h-11zM1636 1339h18v4h-18zM1639 1343h27v4h-27zM1647 1347h19v3h-19zM1658 1350h11v4h-11zM1658 1354h11v4h-11zM1662 1358h11v4h-11zM1662 1362h11v3h-11zM1666 1365h7v4h-7zM1666 1369h11v4h-11zM1666 1373h11v4h-11zM1669 1377h8v3h-8zM1669 1380h15v4h-15zM1669 1384h15v4h-15zM1677 1388h7v4h-7zM1677 1392h11v3h-11zM1677 1395h15v4h-15zM1681 1399h15v4h-15zM1684 1403h12v4h-12zM1688 1407h15v3h-15zM1692 1410h11v4h-11zM1696 1414h15v4h-15zM1700 1418h15v4h-15zM1703 1422h15v4h-15zM1707 1426h19v3h-19zM1711 1429h15v4h-15zM1718 1433h8v4h-8zM1718 1437h8v4h-8zM1718 1441h8v3h-8zM1718 1444h8v4h-8zM1718 1448h12v4h-12zM1718 1452h12v4h-12zM1722 1456h15v3h-15zM1722 1459h19v4h-19zM1730 1463h15v4h-15zM1733 1467h15v4h-15zM1737 1471h15v3h-15zM1741 1474h15v4h-15zM1745 1478h11v4h-11zM1748 1482h8v4h-8zM1748 1486h8v3h-8zM1748 1489h8v4h-8zM1748 1493h15v4h-15zM1748 1497h19v4h-19zM1756 1501h15v3h-15zM1760 1504h15v4h-15zM1763 1508h12v4h-12zM1767 1512h11v4h-11zM1771 1516h7v4h-7zM1771 1520h7v3h-7zM1771 1523h11v4h-11zM1771 1527h15v4h-15zM1775 1531h15v4h-15zM1778 1535h12v3h-12zM1782 1538h15v4h-15zM1786 1542h15v4h-15zM1790 1546h11v4h-11zM1794 1550h11v3h-11zM1794 1553h11v4h-11zM1797 1557h8v4h-8zM1797 1561h8v4h-8zM1797 1565h12v3h-12zM1797 1568h15v4h-15zM1801 1572h11v4h-11zM1805 1576h15v4h-15zM1805 1580h19v3h-19zM1812 1583h15v4h-15zM1816 1587h15v4h-15zM1820 1591h11v4h-11zM1824 1595h7v3h-7zM1824 1598h7v4h-7zM1824 1602h7v4h-7zM1824 1606h7v4h-7zM1824 1610h7v4h-7zM1824 1614h11v3h-11zM1824 1617h15v4h-15zM1827 1621h12v4h-12zM1831 1625h15v4h-15zM1835 1629h19v3h-19zM1839 1632h15v4h-15zM1846 1636h15v4h-15zM1850 1640h11v4h-11zM1854 1644h7v3h-7zM1854 1647h7v4h-7zM1854 1651h7v4h-7zM1854 1655h7v4h-7zM1854 1659h11v3h-11zM1857 1662h8v4h-8zM1857 1666h8v4h-8zM1857 1670h12v4h-12zM1857 1674h15v3h-15zM1861 1677h15v4h-15zM1865 1681h15v4h-15zM1869 1685h15v4h-15zM1872 1689h12v3h-12zM1876 1692h12v4h-12zM1880 1696h8v4h-8zM1880 1700h11v4h-11zM1880 1704h11v4h-11zM1884 1708h7v3h-7z" fill="#1a6fdf"/>
<path d="M2087 61h7v3h-7zM2087 64h7v4h-7zM2087 68h7v4h-7zM2087 72h7v4h-7zM2087 76h7v3h-7zM2087 79h7v4h-7zM2087 83h7v4h-7zM2087 87h7v4h-7zM2087 91h7v3h-7zM2083 94h11v4h-11zM2083 98h8v4h-8zM2083 102h8v4h-8zM2083 106h8v4h-8zM2079 110h12v3h-12zM2079 113h8v4h-8zM2079 117h8v4h-8zM2076 121h11v4h-11zM2076 125h11v3h-11zM2076 128h7v4h-7zM2076 132h7v4h-7zM2072 136h11v4h-11zM2072 140h11v3h-11zM2072 143h7v4h-7zM2072 147h7v4h-7zM2068 151h11v4h-11zM2068 155h11v3h-11zM2064 158h12v4h-12zM2064 162h12v4h-12zM2060 166h12v4h-12zM2060 170h12v3h-12zM2060 173h8v4h-8zM2060 177h8v4h-8zM2060 181h8v4h-8zM2060 185h8v3h-8zM2057 188h11v4h-11zM2057 192h11v4h-11zM2057 196h7v4h-7zM2053 200h11v4h-11zM2053 204h11v3h-11zM2053 207h7v4h-7zM2049 211h11v4h-11zM2049 215h11v4h-11zM2049 219h8v3h-8zM2045 222h12v4h-12zM2045 226h12v4h-12zM2045 230h8v4h-8zM2042 234h11v3h-11zM2042 237h11v4h-11zM2042 241h7v4h-7zM2042 245h7v4h-7zM2038 249h11v3h-11zM2038 252h11v4h-11zM2034 256h11v4h-11zM2034 260h11v4h-11zM2034 264h8v3h-8zM2030 267h12v4h-12zM2030 271h8v4h-8zM2030 275h8v4h-8zM2030 279h8v3h-8zM2027 282h11v4h-11zM2027 286h7v4h-7zM2023 290h11v4h-11zM2023 294h11v4h-11zM2019 298h11v3h-11zM2019 301h11v4h-11zM2015 305h12v4h-12zM2015 309h12v4h-12zM2012 313h11v3h-11zM2012 316h11v4h-11zM2008 320h11v4h-11zM2008 324h7v4h-7zM2008 328h7v3h-7zM2004 331h11v4h-11zM2004 335h11v4h-11zM2004 339h8v4h-8zM2004 343h15v3h-15zM2004 346h15v4h-15zM2004 350h11v4h-11zM2004 354h11v4h-11zM2000 358h12v3h-12zM2000 361h12v4h-12zM1997 365h11v4h-11zM1997 369h11v4h-11zM1993 373h11v3h-11zM1993 376h11v4h-11zM1989 380h11v4h-11zM1989 384h11v4h-11zM1985 388h12v4h-12zM1985 392h12v3h-12zM1982 395h11v4h-11zM1982 399h11v4h-11zM1978 403h11v4h-11zM1978 407h11v3h-11zM1974 410h11v4h-11zM1974 414h11v4h-11zM1970 418h12v4h-12zM1970 422h12v3h-12zM1970 425h8v4h-8zM1966 429h12v4h-12zM1966 433h8v4h-8zM1966 437h8v3h-8zM1963 440h11v4h-11zM1963 444h11v4h-11zM1963 448h7v4h-7zM1959 452h11v3h-11zM1959 455h11v4h-11zM1959 459h7v4h-7zM1955 463h11v4h-11zM1955 467h11v3h-11zM1955 470h8v4h-8zM1951 474h12v4h-12zM1951 478h12v4h-12zM1948 482h11v4h-11zM1948 486h11v3h-11zM1944 489h11v4h-11zM1944 493h11v4h-11zM1940 497h11v4h-11zM1940 501h11v3h-11zM1936 504h12v4h-12zM1933 508h11v4h-11zM1933 512h11v4h-11zM1929 516h11v3h-11zM1925 519h15v4h-15zM1925 523h11v4h-11zM1921 527h12v4h-12zM1921 531h12v3h-12zM1918 534h11v4h-11zM1914 538h11v4h-11zM1910 542h15v4h-15zM1910 546h11v3h-11zM1906 549h12v4h-12zM1903 553h11v4h-11zM1899 557h11v4h-11zM1895 561h11v3h-11zM1891 564h15v4h-15zM1888 568h15v4h-15zM1884 572h15v4h-15zM1880 576h15v4h-15zM1876 580h15v3h-15zM1872 583h16v4h-16zM1869 587h15v4h-15zM1861 591h15v4h-15zM1857 595h15v3h-15zM1854 598h15v4h-15zM1850 602h15v4h-15zM1842 606h19v4h-19zM1842 610h12v3h-12zM1839 613h11v4h-11zM1839 617h11v4h-11zM1835 621h11v4h-11zM1831 625h11v3h-11zM1827 628h12v4h-12zM1827 632h12v4h-12zM1820 636h15v4h-15zM1812 640h19v3h-19zM1805 643h22v4h-22zM1797 647h23v4h-23zM1794 651h18v4h-18zM1786 655h19v3h-19zM1782 658h19v4h-19zM1778 662h16v4h-16zM1771 666h15v4h-15zM1767 670h15v4h-15zM1760 674h18v3h-18zM1752 677h19v4h-19zM1748 681h19v4h-19zM1737 685h23v4h-23zM1726 689h30v3h-30zM1718 692h23v4h-23zM1711 696h22v4h-22zM1707 700h19v4h-19zM1700 704h18v3h-18zM1692 707h23v4h-23zM1681 711h26v4h-26zM1639 715h61v4h-61zM1628 719h60v3h-60zM1617 722h30v4h-30zM1606 726h30v4h-30zM1590 730h34v4h-34zM1568 734h45v3h-45zM1545 737h49v4h-49zM1530 741h42v4h-42zM1508 745h45v4h-45zM1496 749h38v3h-38zM1478 752h37v4h-37zM1470 756h30v4h-30zM1466 760h19v4h-19zM1459 764h19v4h-19zM1455 768h15v3h-15zM1448 771h18v4h-18zM1406 775h57v4h-57zM1395 779h60v4h-60zM1369 783h45v3h-45zM1365 786h34v4h-34zM1361 790h15v4h-15zM1357 794h15v4h-15zM1346 798h23v3h-23zM1331 801h34v4h-34zM1331 805h23v4h-23zM1331 809h8v4h-8zM1312 813h27v3h-27zM1308 816h31v4h-31zM1305 820h15v4h-15zM1301 824h15v4h-15zM1297 828h15v3h-15zM1293 831h15v4h-15zM1290 835h15v4h-15zM1282 839h19v4h-19zM1271 843h26v3h-26zM1263 846h27v4h-27zM1256 850h22v4h-22zM1248 854h19v4h-19zM1218 858h42v4h-42zM1181 862h71v3h-71zM1162 865h64v4h-64zM1151 869h37v4h-37zM1139 873h30v4h-30zM1128 877h30v3h-30zM1124 880h23v4h-23zM1060 884h76v4h-76zM944 888h188v4h-188zM865 892h203v3h-203zM820 895h131v4h-131zM820 899h52v4h-52zM820 903h49v4h-49zM820 907h94v3h-94zM861 910h83v4h-83zM906 914h42v4h-42zM936 918h30v4h-30zM940 922h30v3h-30zM959 925h19v4h-19zM966 929h38v4h-38zM970 933h41v4h-41zM996 937h23v3h-23zM1004 940h30v4h-30zM1015 944h53v4h-53zM1026 948h49v4h-49zM1060 952h15v4h-15zM1068 956h11v3h-11zM1068 959h19v4h-19zM1072 963h26v4h-26zM1079 967h30v4h-30zM1090 971h34v3h-34zM1105 974h23v4h-23zM1117 978h11v4h-11zM1120 982h12v4h-12zM1124 986h12v3h-12zM1124 989h15v4h-15zM1128 993h15v4h-15zM1132 997h11v4h-11zM1136 1001h11v3h-11zM1139 1004h19v4h-19zM1143 1008h23v4h-23zM1151 1012h18v4h-18zM1162 1016h11v3h-11zM1162 1019h15v4h-15zM1166 1023h11v4h-11zM1169 1027h30v4h-30zM1169 1031h42v3h-42zM1192 1034h22v4h-22zM1203 1038h15v4h-15zM1207 1042h15v4h-15zM1211 1046h15v4h-15zM1218 1050h12v3h-12zM1218 1053h15v4h-15zM1222 1057h11v4h-11zM1226 1061h15v4h-15zM1226 1065h22v3h-22zM1233 1068h19v4h-19zM1245 1072h15v4h-15zM1248 1076h15v4h-15zM1252 1080h15v3h-15zM1256 1083h15v4h-15zM1260 1087h11v4h-11zM1263 1091h12v4h-12zM1263 1095h12v3h-12zM1267 1098h11v4h-11zM1267 1102h11v4h-11zM1271 1106h7v4h-7zM1271 1110h7v3h-7zM1271 1113h7v4h-7zM1271 1117h7v4h-7zM1271 1121h11v4h-11zM1271 1125h15v3h-15zM1275 1128h18v4h-18zM1278 1132h19v4h-19zM1286 1136h30v4h-30zM1290 1140h30v4h-30zM1308 1144h27v3h-27zM1316 1147h34v4h-34zM1327 1151h27v4h-27zM1346 1155h11v4h-11zM1346 1159h15v3h-15zM1350 1162h11v4h-11zM1354 1166h7v4h-7zM1354 1170h11v4h-11zM1357 1174h12v3h-12zM1357 1177h15v4h-15zM1361 1181h19v4h-19zM1369 1185h15v4h-15zM1372 1189h19v3h-19zM1380 1192h15v4h-15zM1384 1196h15v4h-15zM1391 1200h11v4h-11zM1391 1204h11v3h-11zM1395 1207h11v4h-11zM1395 1211h11v4h-11zM1399 1215h15v4h-15zM1399 1219h22v3h-22zM1406 1222h15v4h-15zM1414 1226h7v4h-7zM1414 1230h7v4h-7zM1414 1234h7v4h-7zM1414 1238h11v3h-11zM1414 1241h19v4h-19zM1418 1245h22v4h-22zM1425 1249h15v4h-15zM1433 1253h7v3h-7zM1433 1256h7v4h-7zM1433 1260h7v4h-7zM1433 1264h7v4h-7zM1433 1268h7v3h-7zM1433 1271h15v4h-15zM1436 1275h15v4h-15zM1440 1279h11v4h-11zM1444 1283h7v3h-7zM1444 1286h7v4h-7zM1444 1290h11v4h-11zM1444 1294h11v4h-11zM1448 1298h7v3h-7zM1448 1301h11v4h-11zM1448 1305h15v4h-15zM1451 1309h15v4h-15zM1455 1313h15v3h-15zM1459 1316h19v4h-19zM1466 1320h15v4h-15zM1470 1324h19v4h-19zM1478 1328h11v4h-11zM1481 1332h12v3h-12zM1481 1335h12v4h-12zM1485 1339h8v4h-8zM1485 1343h11v4h-11zM1489 1347h11v3h-11zM1489 1350h11v4h-11zM1493 1354h11v4h-11zM1493 1358h19v4h-19zM1496 1362h16v3h-16zM1504 1365h8v4h-8zM1504 1369h11v4h-11zM1504 1373h11v4h-11zM1508 1377h7v3h-7zM1508 1380h7v4h-7zM1508 1384h11v4h-11zM1508 1388h15v4h-15zM1512 1392h22v3h-22zM1519 1395h26v4h-26zM1527 1399h26v4h-26zM1538 1403h22v4h-22zM1549 1407h15v3h-15zM1553 1410h11v4h-11zM1557 1414h7v4h-7zM1557 1418h11v4h-11zM1557 1422h11v4h-11zM1560 1426h8v3h-8zM1560 1429h8v4h-8zM1560 1433h8v4h-8zM1560 1437h12v4h-12zM1560 1441h15v3h-15zM1564 1444h19v4h-19zM1572 1448h18v4h-18zM1575 1452h23v4h-23zM1583 1456h15v3h-15zM1590 1459h12v4h-12zM1590 1463h12v4h-12zM1594 1467h12v4h-12zM1594 1471h15v3h-15zM1598 1474h15v4h-15zM1602 1478h19v4h-19zM1606 1482h22v4h-22zM1613 1486h19v3h-19zM1621 1489h15v4h-15zM1624 1493h15v4h-15zM1628 1497h15v4h-15zM1632 1501h11v3h-11zM1636 1504h11v4h-11zM1636 1508h15v4h-15zM1639 1512h15v4h-15zM1643 1516h15v4h-15zM1647 1520h15v3h-15zM1651 1523h18v4h-18zM1654 1527h19v4h-19zM1662 1531h19v4h-19zM1666 1535h18v3h-18zM1673 1538h15v4h-15zM1677 1542h11v4h-11zM1681 1546h15v4h-15zM1684 1550h19v3h-19zM1688 1553h19v4h-19zM1696 1557h15v4h-15zM1700 1561h18v4h-18zM1707 1565h15v3h-15zM1711 1568h15v4h-15zM1715 1572h11v4h-11zM1718 1576h8v4h-8zM1718 1580h8v3h-8zM1718 1583h12v4h-12zM1722 1587h8v4h-8zM1722 1591h8v4h-8zM1722 1595h11v3h-11zM1726 1598h7v4h-7zM1726 1602h11v4h-11zM1726 1606h11v4h-11zM1730 1610h11v4h-11zM1730 1614h15v3h-15zM1733 1617h15v4h-15zM1737 1621h19v4h-19zM1741 1625h22v4h-22zM1748 1629h19v3h-19zM1756 1632h11v4h-11zM1760 1636h11v4h-11zM1763 1640h12v4h-12zM1767 1644h11v3h-11zM1771 1647h11v4h-11zM1775 1651h11v4h-11zM1775 1655h11v4h-11zM1778 1659h12v3h-12zM1782 1662h12v4h-12zM1782 1666h19v4h-19zM1790 1670h15v4h-15zM1794 1674h15v3h-15zM1797 1677h15v4h-15zM1801 1681h15v4h-15zM1805 1685h15v4h-15zM1809 1689h11v3h-11zM1812 1692h12v4h-12zM1812 1696h12v4h-12zM1816 1700h11v4h-11zM1816 1704h15v4h-15zM1820 1708h11v3h-11z" fill="#ebc56a"/>
<path d="M2102 61h7v3h-7zM2102 64h7v4h-7zM2102 68h7v4h-7zM2102 72h7v4h-7zM2102 76h7v3h-7zM2098 79h11v4h-11zM2098 83h11v4h-11zM2098 87h8v4h-8zM2094 91h12v3h-12zM2094 94h12v4h-12zM2094 98h8v4h-8zM2094 102h8v4h-8zM2091 106h11v4h-11zM2091 110h7v3h-7zM2091 113h7v4h-7zM2091 117h7v4h-7zM2087 121h11v4h-11zM2087 125h11v3h-11zM2087 128h7v4h-7zM2087 132h7v4h-7zM2083 136h11v4h-11zM2083 140h11v3h-11zM2083 143h8v4h-8zM2083 147h8v4h-8zM2079 151h12v4h-12zM2079 155h8v3h-8zM2079 158h8v4h-8zM2079 162h8v4h-8zM2076 166h11v4h-11zM2072 170h11v3h-11zM2072 173h11v4h-11zM2072 177h7v4h-7zM2068 181h11v4h-11zM2068 185h8v3h-8zM2068 188h8v4h-8zM2068 192h8v4h-8zM2068 196h8v4h-8zM2068 200h8v4h-8zM2068 204h8v3h-8zM2064 207h12v4h-12zM2064 211h12v4h-12zM2064 215h8v4h-8zM2060 219h12v3h-12zM2060 222h8v4h-8zM2060 226h8v4h-8zM2057 230h11v4h-11zM2057 234h11v3h-11zM2057 237h7v4h-7zM2057 241h7v4h-7zM2053 245h11v4h-11zM2053 249h7v3h-7zM2049 252h11v4h-11zM2045 256h12v4h-12zM2045 260h12v4h-12zM2045 264h8v3h-8zM2045 267h8v4h-8zM2042 271h11v4h-11zM2042 275h11v4h-11zM2042 279h7v3h-7zM2042 282h7v4h-7zM2038 286h11v4h-11zM2038 290h11v4h-11zM2034 294h11v4h-11zM2034 298h11v3h-11zM2030 301h12v4h-12zM2027 305h15v4h-15zM2027 309h11v4h-11zM2023 313h11v3h-11zM2023 316h11v4h-11zM2023 320h7v4h-7zM2019 324h11v4h-11zM2019 328h8v3h-8zM2019 331h8v4h-8zM2019 335h8v4h-8zM2019 339h8v4h-8zM2015 343h12v3h-12zM2015 346h12v4h-12zM2015 350h12v4h-12zM2015 354h12v4h-12zM2012 358h11v3h-11zM2012 361h11v4h-11zM2008 365h11v4h-11zM2008 369h11v4h-11zM2008 373h7v3h-7zM2004 376h11v4h-11zM2004 380h8v4h-8zM2000 384h12v4h-12zM2000 388h12v4h-12zM1997 392h11v3h-11zM1997 395h7v4h-7zM1993 399h11v4h-11zM1989 403h11v4h-11zM1989 407h11v3h-11zM1985 410h12v4h-12zM1985 414h12v4h-12zM1982 418h11v4h-11zM1982 422h11v3h-11zM1978 425h11v4h-11zM1974 429h11v4h-11zM1974 433h11v4h-11zM1970 437h12v3h-12zM1966 440h16v4h-16zM1966 444h12v4h-12zM1963 448h11v4h-11zM1963 452h11v3h-11zM1959 455h11v4h-11zM1959 459h11v4h-11zM1955 463h11v4h-11zM1951 467h15v3h-15zM1951 470h12v4h-12zM1948 474h11v4h-11zM1948 478h11v4h-11zM1944 482h11v4h-11zM1940 486h11v3h-11zM1936 489h15v4h-15zM1933 493h15v4h-15zM1933 497h11v4h-11zM1933 501h7v3h-7zM1929 504h11v4h-11zM1929 508h11v4h-11zM1925 512h11v4h-11zM1921 516h15v3h-15zM1918 519h15v4h-15zM1918 523h11v4h-11zM1914 527h11v4h-11zM1910 531h11v3h-11zM1910 534h11v4h-11zM1906 538h12v4h-12zM1903 542h15v4h-15zM1899 546h15v3h-15zM1895 549h15v4h-15zM1891 553h15v4h-15zM1888 557h15v4h-15zM1884 561h15v3h-15zM1880 564h15v4h-15zM1876 568h15v4h-15zM1872 572h16v4h-16zM1869 576h15v4h-15zM1865 580h15v3h-15zM1861 583h15v4h-15zM1857 587h15v4h-15zM1854 591h15v4h-15zM1850 595h15v3h-15zM1842 598h15v4h-15zM1839 602h18v4h-18zM1831 606h19v4h-19zM1827 610h19v3h-19zM1824 613h15v4h-15zM1820 617h15v4h-15zM1812 621h19v4h-19zM1809 625h18v3h-18zM1805 628h15v4h-15zM1797 632h19v4h-19zM1790 636h19v4h-19zM1786 640h19v3h-19zM1782 643h15v4h-15zM1775 647h19v4h-19zM1767 651h23v4h-23zM1760 655h22v3h-22zM1756 658h15v4h-15zM1752 662h15v4h-15zM1748 666h15v4h-15zM1737 670h23v4h-23zM1730 674h22v3h-22zM1726 677h19v4h-19zM1722 681h15v4h-15zM1715 685h18v4h-18zM1703 689h23v3h-23zM1703 692h15v4h-15zM1696 696h15v4h-15zM1688 700h19v4h-19zM1677 704h26v3h-26zM1666 707h30v4h-30zM1666 711h18v4h-18zM1662 715h11v4h-11zM1654 719h15v3h-15zM1643 722h23v4h-23zM1617 726h45v4h-45zM1606 730h45v4h-45zM1590 734h34v3h-34zM1575 737h34v4h-34zM1557 741h41v4h-41zM1542 745h41v4h-41zM1534 749h30v3h-30zM1500 752h49v4h-49zM1478 756h64v4h-64zM1470 760h34v4h-34zM1448 764h37v4h-37zM1402 768h72v3h-72zM1399 771h56v4h-56zM1384 775h26v4h-26zM1380 779h22v4h-22zM1380 783h7v3h-7zM1297 786h90v4h-90zM1260 790h127v4h-127zM1252 794h53v4h-53zM1203 798h64v3h-64zM1196 801h64v4h-64zM1196 805h15v4h-15zM1192 809h11v4h-11zM1188 813h11v3h-11zM1181 816h18v4h-18zM1147 820h49v4h-49zM1132 824h56v4h-56zM1060 828h94v3h-94zM1060 831h79v4h-79zM1034 835h34v4h-34zM981 839h42v4h-42zM1030 839h38v4h-38zM970 843h72v3h-72zM966 846h23v4h-23zM1015 846h19v4h-19zM966 850h12v4h-12zM955 854h19v4h-19zM940 858h34v4h-34zM932 862h31v3h-31zM925 865h23v4h-23zM861 869h79v4h-79zM838 873h94v4h-94zM838 877h31v3h-31zM793 880h53v4h-53zM718 884h128v4h-128zM718 888h83v4h-83zM722 892h124v3h-124zM793 895h79v4h-79zM838 899h91v4h-91zM869 903h67v4h-67zM921 907h49v3h-49zM932 910h42v4h-42zM963 914h22v4h-22zM966 918h30v4h-30zM978 922h22v3h-22zM989 925h53v4h-53zM993 929h49v4h-49zM993 933h52v4h-52zM993 937h97v3h-97zM1038 940h56v4h-56zM1083 944h15v4h-15zM1087 948h41v4h-41zM1090 952h42v4h-42zM1124 956h12v3h-12zM1124 959h23v4h-23zM1132 963h22v4h-22zM1139 967h23v4h-23zM1147 971h19v3h-19zM1154 974h15v4h-15zM1158 978h15v4h-15zM1162 982h22v4h-22zM1169 986h23v3h-23zM1177 989h19v4h-19zM1184 993h19v4h-19zM1188 997h19v4h-19zM1196 1001h22v3h-22zM1203 1004h19v4h-19zM1211 1008h19v4h-19zM1218 1012h15v4h-15zM1222 1016h19v3h-19zM1230 1019h15v4h-15zM1233 1023h19v4h-19zM1241 1027h19v4h-19zM1245 1031h22v3h-22zM1252 1034h19v4h-19zM1260 1038h11v4h-11zM1263 1042h12v4h-12zM1263 1046h12v4h-12zM1267 1050h11v3h-11zM1267 1053h15v4h-15zM1271 1057h15v4h-15zM1278 1061h8v4h-8zM1278 1065h8v3h-8zM1278 1068h12v4h-12zM1278 1072h12v4h-12zM1282 1076h8v4h-8zM1282 1080h11v3h-11zM1282 1083h11v4h-11zM1286 1087h7v4h-7zM1286 1091h11v4h-11zM1286 1095h11v3h-11zM1290 1098h7v4h-7zM1290 1102h7v4h-7zM1290 1106h7v4h-7zM1290 1110h7v3h-7zM1290 1113h11v4h-11zM1290 1117h11v4h-11zM1293 1121h8v4h-8zM1293 1125h12v3h-12zM1293 1128h12v4h-12zM1297 1132h11v4h-11zM1301 1136h11v4h-11zM1301 1140h11v4h-11zM1305 1144h7v3h-7zM1305 1147h7v4h-7zM1305 1151h11v4h-11zM1308 1155h8v4h-8zM1308 1159h12v3h-12zM1308 1162h16v4h-16zM1312 1166h12v4h-12zM1316 1170h8v4h-8zM1316 1174h11v3h-11zM1316 1177h11v4h-11zM1320 1181h7v4h-7zM1320 1185h22v4h-22zM1320 1189h34v3h-34zM1335 1192h22v4h-22zM1346 1196h15v4h-15zM1350 1200h11v4h-11zM1354 1204h7v3h-7zM1354 1207h7v4h-7zM1354 1211h11v4h-11zM1354 1215h11v4h-11zM1357 1219h8v3h-8zM1357 1222h12v4h-12zM1357 1226h19v4h-19zM1361 1230h19v4h-19zM1369 1234h18v4h-18zM1376 1238h15v3h-15zM1380 1241h15v4h-15zM1384 1245h15v4h-15zM1387 1249h12v4h-12zM1391 1253h8v3h-8zM1391 1256h8v4h-8zM1391 1260h8v4h-8zM1391 1264h8v4h-8zM1391 1268h11v3h-11zM1395 1271h11v4h-11zM1395 1275h23v4h-23zM1402 1279h19v4h-19zM1410 1283h15v3h-15zM1414 1286h15v4h-15zM1418 1290h15v4h-15zM1421 1294h12v4h-12zM1425 1298h11v3h-11zM1425 1301h11v4h-11zM1429 1305h7v4h-7zM1429 1309h7v4h-7zM1429 1313h11v3h-11zM1429 1316h22v4h-22zM1433 1320h22v4h-22zM1448 1324h15v4h-15zM1451 1328h12v4h-12zM1455 1332h11v3h-11zM1459 1335h11v4h-11zM1459 1339h15v4h-15zM1463 1343h11v4h-11zM1466 1347h15v3h-15zM1470 1350h19v4h-19zM1474 1354h22v4h-22zM1481 1358h19v4h-19zM1489 1362h15v3h-15zM1493 1365h15v4h-15zM1496 1369h19v4h-19zM1500 1373h15v4h-15zM1508 1377h11v3h-11zM1508 1380h11v4h-11zM1512 1384h11v4h-11zM1512 1388h15v4h-15zM1515 1392h15v3h-15zM1519 1395h19v4h-19zM1527 1399h15v4h-15zM1530 1403h19v4h-19zM1538 1407h15v3h-15zM1542 1410h18v4h-18zM1545 1414h15v4h-15zM1549 1418h11v4h-11zM1553 1422h11v4h-11zM1557 1426h11v3h-11zM1557 1429h15v4h-15zM1560 1433h23v4h-23zM1564 1437h26v4h-26zM1579 1441h19v3h-19zM1587 1444h15v4h-15zM1590 1448h16v4h-16zM1594 1452h15v4h-15zM1598 1456h15v3h-15zM1602 1459h11v4h-11zM1606 1463h11v4h-11zM1609 1467h12v4h-12zM1609 1471h12v3h-12zM1613 1474h11v4h-11zM1613 1478h11v4h-11zM1617 1482h7v4h-7zM1617 1486h7v3h-7zM1617 1489h11v4h-11zM1621 1493h11v4h-11zM1624 1497h12v4h-12zM1628 1501h11v3h-11zM1628 1504h11v4h-11zM1632 1508h11v4h-11zM1632 1512h11v4h-11zM1636 1516h18v4h-18zM1636 1520h30v3h-30zM1647 1523h26v4h-26zM1658 1527h26v4h-26zM1669 1531h23v4h-23zM1681 1535h11v3h-11zM1684 1538h8v4h-8zM1684 1542h12v4h-12zM1684 1546h12v4h-12zM1688 1550h12v3h-12zM1688 1553h19v4h-19zM1696 1557h11v4h-11zM1700 1561h7v4h-7zM1700 1565h7v3h-7zM1700 1568h11v4h-11zM1700 1572h11v4h-11zM1703 1576h8v4h-8zM1703 1580h15v3h-15zM1707 1583h15v4h-15zM1711 1587h15v4h-15zM1715 1591h18v4h-18zM1718 1595h19v3h-19zM1726 1598h15v4h-15zM1730 1602h15v4h-15zM1733 1606h15v4h-15zM1737 1610h19v4h-19zM1741 1614h15v3h-15zM1748 1617h12v4h-12zM1748 1621h12v4h-12zM1752 1625h8v4h-8zM1752 1629h8v3h-8zM1752 1632h8v4h-8zM1752 1636h11v4h-11zM1752 1640h15v4h-15zM1756 1644h15v3h-15zM1760 1647h15v4h-15zM1763 1651h15v4h-15zM1767 1655h19v4h-19zM1775 1659h11v3h-11zM1778 1662h12v4h-12zM1778 1666h12v4h-12zM1782 1670h15v4h-15zM1782 1674h19v3h-19zM1790 1677h15v4h-15zM1797 1681h12v4h-12zM1801 1685h11v4h-11zM1805 1689h11v3h-11zM1809 1692h11v4h-11zM1812 1696h8v4h-8zM1812 1700h8v4h-8zM1812 1704h8v4h-8zM1812 1708h8v3h-8z" fill="#ae76de"/>
<path d="M1715 256h7v4h-7zM1715 260h7v4h-7zM1711 264h11v3h-11zM1711 267h7v4h-7zM1707 271h11v4h-11zM1707 275h11v4h-11zM1703 279h12v3h-12zM1703 282h8v4h-8zM1700 286h11v4h-11zM1700 290h7v4h-7zM1696 294h11v4h-11zM1696 298h11v3h-11zM1696 301h7v4h-7zM1696 305h7v4h-7zM1696 309h7v4h-7zM1696 313h7v3h-7zM1692 316h11v4h-11zM1692 320h11v4h-11zM1688 324h12v4h-12zM1688 328h12v3h-12zM1684 331h12v4h-12zM1684 335h12v4h-12zM1681 339h11v4h-11zM1677 343h15v3h-15zM1677 346h11v4h-11zM1673 350h11v4h-11zM1673 354h11v4h-11zM1673 358h8v3h-8zM1673 361h8v4h-8zM1673 365h8v4h-8zM1673 369h8v4h-8zM1673 373h8v3h-8zM1669 376h12v4h-12zM1666 380h11v4h-11zM1666 384h11v4h-11zM1662 388h11v4h-11zM1658 392h15v3h-15zM1654 395h15v4h-15zM1654 399h12v4h-12zM1654 403h8v4h-8zM1654 407h8v3h-8zM1654 410h8v4h-8zM1654 414h8v4h-8zM1654 418h8v4h-8zM1651 422h11v3h-11zM1647 425h11v4h-11zM1643 429h15v4h-15zM1639 433h12v4h-12zM1639 437h8v3h-8zM1639 440h8v4h-8zM1639 444h8v4h-8zM1639 448h8v4h-8zM1639 452h8v3h-8zM1636 455h11v4h-11zM1632 459h15v4h-15zM1624 463h19v4h-19zM1621 467h18v3h-18zM1621 470h11v4h-11zM1621 474h7v4h-7zM1621 478h7v4h-7zM1621 482h7v4h-7zM1617 486h11v3h-11zM1617 489h11v4h-11zM1617 493h7v4h-7zM1609 497h15v4h-15zM1602 501h22v3h-22zM1598 504h15v4h-15zM1598 508h11v4h-11zM1598 512h8v4h-8zM1598 516h8v3h-8zM1598 519h8v4h-8zM1598 523h8v4h-8zM1594 527h12v4h-12zM1587 531h19v3h-19zM1579 534h23v4h-23zM1579 538h15v4h-15zM1575 542h12v4h-12zM1575 546h12v3h-12zM1575 549h8v4h-8zM1575 553h8v4h-8zM1575 557h8v4h-8zM1572 561h11v3h-11zM1560 564h23v4h-23zM1557 568h22v4h-22zM1553 572h15v4h-15zM1549 576h15v4h-15zM1549 580h11v3h-11zM1549 583h8v4h-8zM1549 587h8v4h-8zM1549 591h8v4h-8zM1545 595h12v3h-12zM1542 598h15v4h-15zM1530 602h19v4h-19zM1527 606h22v4h-22zM1523 610h15v3h-15zM1519 613h15v4h-15zM1519 617h11v4h-11zM1519 621h8v4h-8zM1519 625h8v3h-8zM1515 628h12v4h-12zM1500 632h27v4h-27zM1493 636h30v4h-30zM1489 640h19v3h-19zM1489 643h11v4h-11zM1489 647h7v4h-7zM1489 651h7v4h-7zM1474 655h22v3h-22zM1470 658h26v4h-26zM1463 662h18v4h-18zM1451 666h23v4h-23zM1448 670h22v4h-22zM1448 674h11v3h-11zM1448 677h7v4h-7zM1440 681h15v4h-15zM1436 685h19v4h-19zM1433 689h15v3h-15zM1418 692h26v4h-26zM1414 696h26v4h-26zM1399 700h26v4h-26zM1395 704h26v3h-26zM1395 707h11v4h-11zM1395 711h7v4h-7zM1387 715h15v4h-15zM1365 719h34v3h-34zM1346 722h49v4h-49zM1339 726h33v4h-33zM1335 730h15v4h-15zM1331 734h15v3h-15zM1324 737h18v4h-18zM1316 741h23v4h-23zM1308 745h23v4h-23zM1290 749h34v3h-34zM1267 752h49v4h-49zM1248 756h45v4h-45zM1241 760h34v4h-34zM1237 764h19v4h-19zM1226 768h19v3h-19zM1211 771h34v4h-34zM1203 775h30v4h-30zM1199 779h19v4h-19zM1199 783h8v3h-8zM1184 786h23v4h-23zM1184 790h23v4h-23zM1158 794h34v4h-34zM1151 798h41v3h-41zM1132 801h34v4h-34zM1117 805h41v4h-41zM1117 809h22v4h-22zM1102 813h22v3h-22zM1079 816h45v4h-45zM1057 820h52v4h-52zM1057 824h30v4h-30zM1038 828h26v3h-26zM1026 831h38v4h-38zM1023 835h22v4h-22zM1019 839h15v4h-15zM981 843h49v3h-49zM944 846h82v4h-82zM940 850h49v4h-49zM917 854h34v4h-34zM914 858h34v4h-34zM876 862h49v3h-49zM805 865h116v4h-116zM756 869h128v4h-128zM726 873h86v4h-86zM613 877h150v3h-150zM384 880h349v4h-349zM380 884h240v4h-240zM380 888h19v4h-19zM380 892h82v3h-82zM391 895h177v4h-177zM459 899h124v4h-124zM560 903h64v4h-64zM579 907h75v3h-75zM620 910h94v4h-94zM647 914h101v4h-101zM707 918h56v4h-56zM741 922h67v3h-67zM756 925h56v4h-56zM801 929h19v4h-19zM805 933h37v4h-37zM812 937h60v3h-60zM835 940h45v4h-45zM865 944h22v4h-22zM872 948h19v4h-19zM880 952h15v4h-15zM884 956h11v3h-11zM887 959h12v4h-12zM887 963h12v4h-12zM891 967h8v4h-8zM891 971h8v3h-8zM891 974h11v4h-11zM891 978h19v4h-19zM899 982h11v4h-11zM902 986h12v3h-12zM902 989h15v4h-15zM906 993h15v4h-15zM910 997h19v4h-19zM914 1001h18v3h-18zM921 1004h30v4h-30zM925 1008h45v4h-45zM944 1012h30v4h-30zM963 1016h15v3h-15zM966 1019h15v4h-15zM970 1023h11v4h-11zM974 1027h15v4h-15zM974 1031h22v3h-22zM981 1034h19v4h-19zM989 1038h15v4h-15zM993 1042h18v4h-18zM1000 1046h15v4h-15zM1004 1050h11v3h-11zM1008 1053h11v4h-11zM1008 1057h15v4h-15zM1011 1061h15v4h-15zM1015 1065h15v3h-15zM1019 1068h15v4h-15zM1023 1072h15v4h-15zM1026 1076h31v4h-31zM1034 1080h26v3h-26zM1049 1083h11v4h-11zM1053 1087h11v4h-11zM1053 1091h15v4h-15zM1057 1095h18v3h-18zM1060 1098h15v4h-15zM1068 1102h7v4h-7zM1068 1106h11v4h-11zM1068 1110h11v3h-11zM1072 1113h7v4h-7zM1072 1117h11v4h-11zM1072 1121h11v4h-11zM1075 1125h8v3h-8zM1075 1128h8v4h-8zM1075 1132h12v4h-12zM1075 1136h15v4h-15zM1079 1140h11v4h-11zM1083 1144h7v3h-7zM1083 1147h11v4h-11zM1083 1151h15v4h-15zM1087 1155h15v4h-15zM1090 1159h15v3h-15zM1094 1162h15v4h-15zM1098 1166h11v4h-11zM1102 1170h11v4h-11zM1105 1174h8v3h-8zM1105 1177h8v4h-8zM1105 1181h12v4h-12zM1105 1185h12v4h-12zM1109 1189h8v3h-8zM1109 1192h15v4h-15zM1113 1196h15v4h-15zM1117 1200h11v4h-11zM1120 1204h8v3h-8zM1120 1207h12v4h-12zM1120 1211h12v4h-12zM1124 1215h12v4h-12zM1128 1219h11v3h-11zM1128 1222h11v4h-11zM1132 1226h11v4h-11zM1132 1230h11v4h-11zM1136 1234h7v4h-7zM1136 1238h7v3h-7zM1136 1241h11v4h-11zM1136 1245h15v4h-15zM1139 1249h15v4h-15zM1143 1253h11v3h-11zM1147 1256h15v4h-15zM1151 1260h15v4h-15zM1158 1264h11v4h-11zM1158 1268h15v3h-15zM1162 1271h15v4h-15zM1166 1275h15v4h-15zM1169 1279h12v4h-12zM1173 1283h11v3h-11zM1177 1286h7v4h-7zM1177 1290h11v4h-11zM1177 1294h11v4h-11zM1181 1298h7v3h-7zM1181 1301h7v4h-7zM1181 1305h11v4h-11zM1181 1309h15v4h-15zM1184 1313h15v3h-15zM1188 1316h11v4h-11zM1188 1320h11v4h-11zM1192 1324h11v4h-11zM1192 1328h11v4h-11zM1196 1332h7v3h-7zM1196 1335h11v4h-11zM1196 1339h11v4h-11zM1199 1343h8v4h-8zM1199 1347h8v3h-8zM1199 1350h8v4h-8zM1199 1354h8v4h-8zM1199 1358h8v4h-8zM1199 1362h12v3h-12zM1199 1365h19v4h-19zM1207 1369h19v4h-19zM1214 1373h16v4h-16zM1218 1377h12v3h-12zM1222 1380h15v4h-15zM1222 1384h19v4h-19zM1230 1388h11v4h-11zM1233 1392h12v3h-12zM1233 1395h12v4h-12zM1237 1399h8v4h-8zM1237 1403h11v4h-11zM1241 1407h7v3h-7zM1241 1410h11v4h-11zM1241 1414h15v4h-15zM1245 1418h15v4h-15zM1248 1422h15v4h-15zM1252 1426h11v3h-11zM1256 1429h11v4h-11zM1260 1433h11v4h-11zM1260 1437h15v4h-15zM1263 1441h15v3h-15zM1267 1444h15v4h-15zM1271 1448h15v4h-15zM1275 1452h15v4h-15zM1282 1456h11v3h-11zM1282 1459h11v4h-11zM1286 1463h11v4h-11zM1286 1467h19v4h-19zM1290 1471h15v3h-15zM1297 1474h8v4h-8zM1297 1478h11v4h-11zM1297 1482h11v4h-11zM1301 1486h7v3h-7zM1301 1489h11v4h-11zM1301 1493h11v4h-11zM1305 1497h11v4h-11zM1305 1501h26v3h-26zM1312 1504h30v4h-30zM1324 1508h18v4h-18zM1335 1512h7v4h-7zM1335 1516h11v4h-11zM1335 1520h11v3h-11zM1339 1523h7v4h-7zM1339 1527h7v4h-7zM1339 1531h7v4h-7zM1339 1535h11v3h-11zM1339 1538h18v4h-18zM1342 1542h23v4h-23zM1350 1546h19v4h-19zM1357 1550h12v3h-12zM1361 1553h11v4h-11zM1361 1557h11v4h-11zM1365 1561h11v4h-11zM1365 1565h15v3h-15zM1369 1568h15v4h-15zM1372 1572h15v4h-15zM1376 1576h15v4h-15zM1380 1580h15v3h-15zM1384 1583h11v4h-11zM1387 1587h8v4h-8zM1387 1591h12v4h-12zM1387 1595h12v3h-12zM1391 1598h11v4h-11zM1391 1602h15v4h-15zM1395 1606h19v4h-19zM1399 1610h19v4h-19zM1406 1614h15v3h-15zM1414 1617h11v4h-11zM1414 1621h11v4h-11zM1418 1625h11v4h-11zM1418 1629h11v3h-11zM1421 1632h8v4h-8zM1421 1636h8v4h-8zM1421 1640h12v4h-12zM1421 1644h15v3h-15zM1425 1647h23v4h-23zM1433 1651h22v4h-22zM1440 1655h15v4h-15zM1448 1659h7v3h-7zM1448 1662h7v4h-7zM1448 1666h7v4h-7zM1448 1670h7v4h-7zM1448 1674h11v3h-11zM1448 1677h15v4h-15zM1451 1681h15v4h-15zM1455 1685h15v4h-15zM1459 1689h15v3h-15zM1463 1692h18v4h-18zM1466 1696h15v4h-15zM1474 1700h15v4h-15zM1478 1704h15v4h-15zM1485 1708h8v3h-8z" fill="#038003"/>
</g>
<rect x="368.0" y="86.4" width="614.7" height="642.8000000000001" fill="none" stroke="#000" stroke-width="4"/>
<line x1="377" y1="143.5" x2="570.5" y2="143.5" stroke="#ff0000" stroke-width="8"/>
<line x1="377" y1="246" x2="570.5" y2="246" stroke="#ef8228" stroke-width="8"/>
<line x1="377" y1="352.5" x2="570.5" y2="352.5" stroke="#1a6fdf" stroke-width="8"/>
<line x1="377" y1="458.8" x2="570.5" y2="458.8" stroke="#ebc56a" stroke-width="8"/>
<line x1="377" y1="561.5" x2="570.5" y2="561.5" stroke="#ae76de" stroke-width="8"/>
<line x1="377" y1="667.8" x2="570.5" y2="667.8" stroke="#038003" stroke-width="8"/>
<g transform="translate(-3.21,2.47) scale(1.0277,0.9656)"><text x="290" y="91" font-family="&quot;Liberation Sans&quot;, Arial, sans-serif" font-size="86" text-anchor="end" dx="0 4.5 -2.25 -1.25">-0.2</text></g>
<g transform="translate(-3.30,-7.88) scale(1.0255,1.0200)"><text x="290" y="363.1" font-family="&quot;Liberation Sans&quot;, Arial, sans-serif" font-size="86" text-anchor="end" dx="0 4.5 -2.25 -1.25">-0.3</text></g>
<g transform="translate(-1.22,-13.22) scale(1.0112,1.0200)"><text x="290" y="635.2" font-family="&quot;Liberation Sans&quot;, Arial, sans-serif" font-size="86" text-anchor="end" dx="0 4.5 -2.25 -1.25">-0.4</text></g>
<g transform="translate(-4.53,-12.81) scale(1.0333,1.0133)"><text x="290" y="907" font-family="&quot;Liberation Sans&quot;, Arial, sans-serif" font-size="86" text-anchor="end" dx="0 4.5 -2.25 -1.25">-0.5</text></g>
<g transform="translate(-3.30,-24.28) scale(1.0255,1.0200)"><text x="290" y="1183.1" font-family="&quot;Liberation Sans&quot;, Arial, sans-serif" font-size="86" text-anchor="end" dx="0 4.5 -2.25 -1.25">-0.6</text></g>
<g transform="translate(-3.30,-29.62) scale(1.0255,1.0200)"><text x="290" y="1455.2" font-family="&quot;Liberation Sans&quot;, Arial, sans-serif" font-size="86" text-anchor="end" dx="0 4.5 -2.25 -1.25">-0.7</text></g>
<g transform="translate(-3.92,-21.16) scale(1.0298,1.0117)"><text x="290" y="1726.7" font-family="&quot;Liberation Sans&quot;, Arial, sans-serif" font-size="86" text-anchor="end" dx="0 4.5 -2.25 -1.25">-0.8</text></g>
<g transform="translate(8.12,-27.49) scale(0.9712,1.0150)"><text x="350.95" y="1825" font-family="&quot;Liberation Sans&quot;, Arial, sans-serif" font-size="86" text-anchor="middle">1E-5</text></g>
<g transform="translate(8.36,-57.87) scale(0.9835,1.0322)"><text x="687.0" y="1825" font-family="&quot;Liberation Sans&quot;, Arial, sans-serif" font-size="86" text-anchor="middle">1E-4</text></g>
<g transform="translate(9.69,-27.49) scale(0.9979,1.0150)"><text x="1018.0999999999999" y="1825" font-family="&quot;Liberation Sans&quot;, Arial, sans-serif" font-size="86" text-anchor="middle">0.001</text></g>
<g transform="translate(-2.41,-27.49) scale(1.0075,1.0150)"><text x="1356.75" y="1825" font-family="&quot;Liberation Sans&quot;, Arial, sans-serif" font-size="86" text-anchor="middle">0.01</text></g>
<g transform="translate(-9.61,-27.49) scale(1.0103,1.0150)"><text x="1696.3" y="1825" font-family="&quot;Liberation Sans&quot;, Arial, sans-serif" font-size="86" text-anchor="middle">0.1</text></g>
<g transform="translate(-314.24,-57.87) scale(1.1571,1.0322)"><text x="2037.65" y="1825" font-family="&quot;Liberation Sans&quot;, Arial, sans-serif" font-size="86" text-anchor="middle">1</text></g>
<g transform="translate(60.04,-27.49) scale(0.9738,1.0150)"><text x="2381.6" y="1825" font-family="&quot;Liberation Sans&quot;, Arial, sans-serif" font-size="86" text-anchor="middle">10</text></g>
<g transform="translate(-2.37,0.10) scale(1.0043,0.9873)"><text x="589.5" y="171.6" font-family="&quot;Liberation Sans&quot;, Arial, sans-serif" font-size="86">Acid</text></g>
<g transform="translate(-5.37,-3.80) scale(1.0025,1.0032)"><text x="591.4" y="277.8" font-family="&quot;Liberation Sans&quot;, Arial, sans-serif" font-size="86">200 ppm</text></g>
<g transform="translate(1.27,-4.25) scale(0.9963,1.0033)"><text x="590.4" y="379.7" font-family="&quot;Liberation Sans&quot;, Arial, sans-serif" font-size="86">400 ppm</text></g>
<g transform="translate(-6.09,-4.40) scale(1.0037,1.0033)"><text x="591.4" y="485.9" font-family="&quot;Liberation Sans&quot;, Arial, sans-serif" font-size="86">600ppm</text></g>
<g transform="translate(0.86,-14.08) scale(0.9935,1.0200)"><text x="593.3" y="592.5" font-family="&quot;Liberation Sans&quot;, Arial, sans-serif" font-size="86">800 ppm</text></g>
<g transform="translate(-0.49,-5.09) scale(0.9905,1.0033)"><text x="597.1" y="694.9" font-family="&quot;Liberation Sans&quot;, Arial, sans-serif" font-size="86">1000 ppm</text></g>
<g transform="translate(25.89,68.09) scale(0.9659,0.9646)"><text x="850" y="1976" font-family="&quot;Liberation Sans&quot;, Arial, sans-serif" font-size="88" font-weight="bold">Current Density (mA/cm</text></g>
<g transform="translate(298.82,-78.04) scale(0.8357,1.0400)"><text x="1823" y="1941" font-family="&quot;Liberation Sans&quot;, Arial, sans-serif" font-size="58" font-weight="bold">2</text></g>
<g transform="translate(507.04,68.79) scale(0.7280,0.9642)"><text x="1852" y="1976" font-family="&quot;Liberation Sans&quot;, Arial, sans-serif" font-size="88" font-weight="bold">)</text></g>
<g transform="translate(0.94,31.54) scale(0.9631,0.9652)"><text transform="translate(109.5,881) rotate(-90)" font-family="&quot;Liberation Sans&quot;, Arial, sans-serif" font-size="88" font-weight="bold" text-anchor="middle">Potential (V) vs. SCE</text></g>
<rect x="265.5" y="1818.0" width="16.5" height="7.5" fill="#fff"/>
<rect x="289.0" y="1818.0" width="15.5" height="7.5" fill="#fff"/>
<rect x="599.5" y="1818.0" width="16.5" height="8.5" fill="#fff"/>
<rect x="623.0" y="1818.0" width="16.5" height="8.5" fill="#fff"/>
<rect x="1090.5" y="1818.0" width="16.5" height="7.5" fill="#fff"/>
<rect x="1114.0" y="1818.0" width="16.5" height="7.5" fill="#fff"/>
<rect x="1405.5" y="1818.0" width="17.5" height="7.5" fill="#fff"/>
<rect x="1430.0" y="1818.0" width="16.5" height="7.5" fill="#fff"/>
<rect x="1721.5" y="1818.0" width="16.5" height="7.5" fill="#fff"/>
<rect x="1746.0" y="1818.0" width="15.5" height="7.5" fill="#fff"/>
<rect x="2021.5" y="1818.0" width="19.5" height="8.5" fill="#fff"/>
<rect x="2050.0" y="1818.0" width="17.5" height="8.5" fill="#fff"/>
<rect x="2337.5" y="1818.0" width="16.5" height="7.5" fill="#fff"/>
<rect x="2361.0" y="1818.0" width="15.5" height="7.5" fill="#fff"/>
<rect x="595.5" y="685.0" width="16.5" height="7.5" fill="#fff"/>
<rect x="620.0" y="685.0" width="15.5" height="7.5" fill="#fff"/>
</svg>
</body></html>
